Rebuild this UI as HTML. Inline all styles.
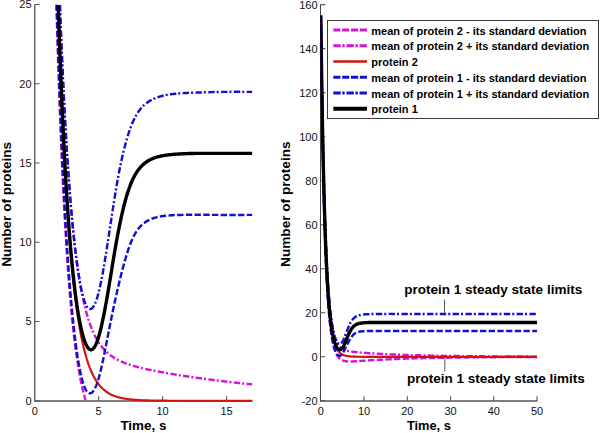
<!DOCTYPE html>
<html><head><meta charset="utf-8"><style>
html,body{margin:0;padding:0;background:#fff;}
svg{display:block;}
.tl text{font-family:"Liberation Sans",sans-serif;font-size:11px;fill:#111;}
.al text{font-family:"Liberation Sans",sans-serif;font-size:12.5px;font-weight:bold;fill:#000;}
text.lg{font-family:"Liberation Sans",sans-serif;font-size:11px;font-weight:bold;fill:#000;}
</style></head><body>
<svg width="600" height="433" viewBox="0 0 600 433">
<rect width="600" height="433" fill="#fff"/>
<defs>
<clipPath id="cl"><rect x="34.2" y="4.6" width="230" height="410"/></clipPath>
<clipPath id="cr"><rect x="320.3" y="4.6" width="230" height="410"/></clipPath>
</defs>
<path d="M34.75,4.55 V401.80" fill="none" stroke="#555" stroke-width="1.3"/>
<path d="M34.25,401 H252.43" fill="none" stroke="#555" stroke-width="1.36"/>
<path d="M34.75,400.80 h4.8 M34.75,321.55 h4.8 M34.75,242.30 h4.8 M34.75,163.05 h4.8 M34.75,83.80 h4.8 M34.75,4.55 h4.8 M98.65,400.80 v-4.6 M162.60,400.80 v-4.6 M226.55,400.80 v-4.6" stroke="#555" stroke-width="1.1"/>
<path d="M320.50,4.62 V401.82" fill="none" stroke="#444" stroke-width="1.0"/>
<path d="M320.00,401 H537.35" fill="none" stroke="#555" stroke-width="1.36"/>
<path d="M320.50,400.82 h4.8 M320.50,356.80 h4.8 M320.50,312.78 h4.8 M320.50,268.76 h4.8 M320.50,224.73 h4.8 M320.50,180.71 h4.8 M320.50,136.69 h4.8 M320.50,92.67 h4.8 M320.50,48.65 h4.8 M320.50,4.62 h4.8 M364.05,400.82 v-4.6 M407.30,400.82 v-4.6 M450.55,400.82 v-4.6 M493.80,400.82 v-4.6 M537.05,400.82 v-4.6" stroke="#555" stroke-width="1.1"/>
<g clip-path="url(#cl)">
<path d="M56.41,4.79 56.47,7.17 56.54,9.53 56.61,11.88 56.68,14.21 56.75,16.54 56.82,18.85 56.88,21.15 56.95,23.43 57.02,25.71 57.09,27.97 57.16,30.22 57.23,32.46 57.29,34.68 57.36,36.90 57.43,39.10 57.50,41.29 57.57,43.47 57.63,45.63 57.70,47.79 57.77,49.93 57.84,52.06 57.91,54.18 57.98,56.29 58.04,58.39 58.11,60.48 58.18,62.55 58.25,64.62 58.32,66.67 58.39,68.71 58.45,70.74 58.52,72.76 58.59,74.77 58.66,76.77 58.73,78.75 58.80,80.73 58.86,82.70 58.93,84.65 59.00,86.60 59.07,88.53 59.14,90.46 59.20,92.37 59.27,94.27 59.34,96.17 59.41,98.05 59.48,99.92 59.55,101.78 59.61,103.64 59.68,105.48 59.75,107.31 59.82,109.13 59.89,110.95 59.96,112.75 60.02,114.54 60.09,116.33 60.16,118.10 60.23,119.87 60.30,121.62 60.37,123.37 60.43,125.10 60.50,126.83 60.57,128.55 60.64,130.26 60.71,131.96 60.77,133.65 60.84,135.33 60.91,137.00 60.98,138.66 61.05,140.32 61.12,141.96 61.18,143.60 61.25,145.22 61.32,146.84 61.39,148.45 61.46,150.05 61.53,151.65 61.59,153.23 61.66,154.80 61.73,156.37 61.80,157.93 61.87,159.48 61.94,161.02 62.00,162.56 62.07,164.08 62.14,165.60 62.21,167.11 62.28,168.61 62.34,170.10 62.41,171.58 62.48,173.06 62.55,174.53 62.62,175.99 62.69,177.44 62.75,178.89 62.82,180.32 62.89,181.75 62.96,183.17 63.03,184.59 63.10,185.99 63.16,187.39 63.23,188.78 63.30,190.17 63.37,191.54 63.44,192.91 63.51,194.27 63.57,195.63 63.64,196.97 63.71,198.31 63.78,199.64 63.85,200.97 63.91,202.29 63.98,203.60 64.05,204.90 64.12,206.20 64.19,207.48 64.26,208.77 64.32,210.04 64.39,211.31 64.46,212.57 64.53,213.83 64.60,215.08 64.67,216.32 64.73,217.55 64.80,218.78 64.87,220.00 64.94,221.22 65.01,222.42 65.08,223.63 65.14,224.82 65.21,226.01 65.28,227.19 65.35,228.37 65.42,229.54 65.48,230.70 65.55,231.86 65.62,233.01 65.69,234.15 65.76,235.29 65.83,236.42 65.89,237.55 65.96,238.67 66.03,239.78 66.10,240.89 66.17,241.99 66.24,243.09 66.30,244.18 66.37,245.26 66.44,246.34 66.51,247.41 66.58,248.48 66.65,249.54 66.71,250.59 66.78,251.64 66.85,252.68 66.92,253.72 66.99,254.75 67.05,255.78 67.12,256.80 67.19,257.82 67.26,258.83 67.33,259.83 67.40,260.83 67.46,261.82 67.53,262.81 67.60,263.79 67.67,264.77 67.74,265.74 67.81,266.71 67.87,267.67 67.94,268.63 68.01,269.58 68.08,270.53 68.15,271.47 68.22,272.40 68.28,273.33 68.35,274.26 68.42,275.18 68.49,276.09 68.56,277.01 68.62,277.91 68.69,278.81 68.76,279.71 68.83,280.60 68.90,281.48 68.97,282.37 69.03,283.24 69.10,284.11 69.17,284.98 69.24,285.84 69.31,286.70 69.38,287.55 69.44,288.40 69.51,289.25 69.58,290.08 69.65,290.92 69.72,291.75 69.79,292.57 69.85,293.40 69.92,294.21 69.99,295.02 70.06,295.83 70.13,296.63 70.19,297.43 70.26,298.23 70.33,299.02 70.40,299.80 70.47,300.59 70.54,301.36 70.60,302.14 70.67,302.90 70.74,303.67 70.81,304.43 70.88,305.19 70.95,305.94 71.01,306.69 71.08,307.43 71.15,308.17 71.22,308.91 71.29,309.64 71.35,310.37 71.42,311.09 71.49,311.81 71.56,312.53 71.63,313.24 71.70,313.95 71.76,314.65 71.83,315.35 71.90,316.05 71.97,316.74 72.04,317.43 72.11,318.11 72.17,318.80 72.24,319.47 72.31,320.15 72.38,320.82 72.45,321.49 72.52,322.15 72.58,322.81 72.65,323.46 72.72,324.12 72.79,324.76 72.86,325.41 72.92,326.05 72.99,326.69 73.06,327.32 73.13,327.96 73.20,328.58 73.27,329.21 73.33,329.83 73.40,330.45 73.47,331.06 73.54,331.67 73.61,332.28 73.68,332.88 73.74,333.48 73.81,334.08 73.88,334.67 73.95,335.26 74.02,335.85 74.09,336.44 74.15,337.02 74.22,337.60 74.29,338.17 74.36,338.74 74.43,339.31 74.49,339.88 74.56,340.44 74.63,341.00 74.70,341.55 74.77,342.11 74.84,342.66 74.90,343.20 74.97,343.75 75.04,344.29 75.11,344.83 75.18,345.36 75.25,345.89 75.31,346.42 75.38,346.95 75.45,347.47 75.52,347.99 75.59,348.51 75.66,349.02 75.72,349.54 75.79,350.04 75.86,350.55 75.93,351.05 76.00,351.55 76.06,352.05 76.13,352.55 76.20,353.04 76.27,353.53 76.34,354.02 76.41,354.50 76.47,354.98 76.54,355.46 76.61,355.94 76.68,356.41 76.75,356.88 76.82,357.35 76.88,357.82 76.95,358.28 77.02,358.74 77.09,359.20 77.16,359.65 77.23,360.11 77.29,360.56 77.36,361.01 77.43,361.45 77.50,361.90 77.57,362.34 77.63,362.77 77.70,363.21 77.77,363.64 77.91,364.50 78.04,365.35 78.18,366.19 78.32,367.03 78.45,367.85 78.59,368.66 78.73,369.46 78.86,370.26 79.00,371.05 79.14,371.82 79.27,372.59 79.41,373.35 79.55,374.10 79.68,374.85 79.82,375.58 79.96,376.31 80.09,377.03 80.23,377.74 80.37,378.44 80.50,379.14 80.64,379.83 80.77,380.51 80.91,381.18 81.05,381.84 81.18,382.50 81.32,383.15 81.46,383.79 81.59,384.43 81.73,385.06 81.87,385.68 82.00,386.29 82.14,386.90 82.28,387.50 82.41,388.09 82.55,388.68 82.69,389.26 82.82,389.83 82.96,390.40 83.10,390.96 83.23,391.52 83.37,392.07 83.51,392.61 83.64,393.14 83.78,393.67 83.91,394.20 84.05,394.72 84.19,395.23 84.32,395.74 84.46,396.24 84.60,396.73 84.73,397.22 84.87,397.70 85.01,398.18 85.14,398.66 85.28,399.12 85.42,399.58 85.55,400.04 85.69,400.49 85.76,400.72" fill="none" stroke="#d614d6" stroke-width="2.45" stroke-dasharray="6.3 2.4" stroke-linejoin="round"/>
<path d="M59.89,4.96 59.96,6.81 60.02,8.64 60.09,10.47 60.16,12.29 60.23,14.10 60.30,15.90 60.37,17.68 60.43,19.46 60.50,21.23 60.57,22.99 60.64,24.75 60.71,26.49 60.77,28.22 60.84,29.95 60.91,31.66 60.98,33.37 61.05,35.06 61.12,36.75 61.18,38.43 61.25,40.10 61.32,41.76 61.39,43.42 61.46,45.06 61.53,46.70 61.59,48.32 61.66,49.94 61.73,51.55 61.80,53.15 61.87,54.75 61.94,56.33 62.00,57.91 62.07,59.48 62.14,61.04 62.21,62.59 62.28,64.13 62.34,65.67 62.41,67.19 62.48,68.71 62.55,70.23 62.62,71.73 62.69,73.22 62.75,74.71 62.82,76.19 62.89,77.66 62.96,79.13 63.03,80.59 63.10,82.03 63.16,83.48 63.23,84.91 63.30,86.34 63.37,87.76 63.44,89.17 63.51,90.57 63.57,91.97 63.64,93.36 63.71,94.74 63.78,96.11 63.85,97.48 63.91,98.84 63.98,100.20 64.05,101.54 64.12,102.88 64.19,104.21 64.26,105.54 64.32,106.86 64.39,108.17 64.46,109.47 64.53,110.77 64.60,112.06 64.67,113.34 64.73,114.62 64.80,115.89 64.87,117.16 64.94,118.41 65.01,119.67 65.08,120.91 65.14,122.15 65.21,123.38 65.28,124.60 65.35,125.82 65.42,127.03 65.48,128.24 65.55,129.44 65.62,130.63 65.69,131.82 65.76,133.00 65.83,134.17 65.89,135.34 65.96,136.50 66.03,137.66 66.10,138.81 66.17,139.95 66.24,141.09 66.30,142.22 66.37,143.35 66.44,144.47 66.51,145.58 66.58,146.69 66.65,147.80 66.71,148.89 66.78,149.98 66.85,151.07 66.92,152.15 66.99,153.22 67.05,154.29 67.12,155.36 67.19,156.41 67.26,157.47 67.33,158.51 67.40,159.55 67.46,160.59 67.53,161.62 67.60,162.64 67.67,163.66 67.74,164.68 67.81,165.69 67.87,166.69 67.94,167.69 68.01,168.68 68.08,169.67 68.15,170.65 68.22,171.63 68.28,172.60 68.35,173.57 68.42,174.53 68.49,175.49 68.56,176.44 68.62,177.39 68.69,178.33 68.76,179.27 68.83,180.20 68.90,181.13 68.97,182.05 69.03,182.97 69.10,183.88 69.17,184.79 69.24,185.70 69.31,186.60 69.38,187.49 69.44,188.38 69.51,189.27 69.58,190.15 69.65,191.02 69.72,191.89 69.79,192.76 69.85,193.62 69.92,194.48 69.99,195.33 70.06,196.18 70.13,197.03 70.19,197.87 70.26,198.70 70.33,199.54 70.40,200.36 70.47,201.19 70.54,202.00 70.60,202.82 70.67,203.63 70.74,204.43 70.81,205.24 70.88,206.03 70.95,206.83 71.01,207.62 71.08,208.40 71.15,209.18 71.22,209.96 71.29,210.73 71.35,211.50 71.42,212.27 71.49,213.03 71.56,213.79 71.63,214.54 71.70,215.29 71.76,216.03 71.83,216.77 71.90,217.51 71.97,218.25 72.04,218.98 72.11,219.70 72.17,220.43 72.24,221.14 72.31,221.86 72.38,222.57 72.45,223.28 72.52,223.98 72.58,224.68 72.65,225.38 72.72,226.07 72.79,226.76 72.86,227.45 72.92,228.13 72.99,228.81 73.06,229.48 73.13,230.16 73.20,230.82 73.27,231.49 73.33,232.15 73.40,232.81 73.47,233.46 73.54,234.11 73.61,234.76 73.68,235.41 73.74,236.05 73.81,236.69 73.88,237.32 73.95,237.95 74.02,238.58 74.09,239.20 74.15,239.83 74.22,240.44 74.29,241.06 74.36,241.67 74.43,242.28 74.49,242.89 74.56,243.49 74.63,244.09 74.70,244.68 74.77,245.28 74.84,245.87 74.90,246.46 74.97,247.04 75.04,247.62 75.11,248.20 75.18,248.77 75.25,249.35 75.31,249.92 75.38,250.48 75.45,251.05 75.52,251.61 75.59,252.16 75.66,252.72 75.72,253.27 75.79,253.82 75.86,254.37 75.93,254.91 76.00,255.45 76.06,255.99 76.13,256.52 76.20,257.06 76.27,257.58 76.34,258.11 76.41,258.64 76.47,259.16 76.54,259.68 76.61,260.19 76.68,260.71 76.75,261.22 76.82,261.73 76.88,262.23 76.95,262.73 77.02,263.23 77.09,263.73 77.16,264.23 77.23,264.72 77.29,265.21 77.36,265.70 77.43,266.18 77.50,266.67 77.57,267.15 77.63,267.62 77.70,268.10 77.77,268.57 77.84,269.04 77.91,269.51 77.98,269.98 78.04,270.44 78.11,270.90 78.18,271.36 78.25,271.82 78.32,272.27 78.39,272.72 78.45,273.17 78.52,273.62 78.59,274.06 78.66,274.51 78.73,274.95 78.80,275.38 78.86,275.82 78.93,276.25 79.07,277.11 79.20,277.97 79.34,278.81 79.48,279.64 79.61,280.47 79.75,281.29 79.89,282.10 80.02,282.90 80.16,283.69 80.30,284.48 80.43,285.25 80.57,286.02 80.71,286.78 80.84,287.54 80.98,288.28 81.12,289.02 81.25,289.75 81.39,290.48 81.53,291.19 81.66,291.90 81.80,292.60 81.94,293.30 82.07,293.99 82.21,294.67 82.34,295.34 82.48,296.01 82.62,296.67 82.75,297.32 82.89,297.97 83.03,298.61 83.16,299.25 83.30,299.87 83.44,300.50 83.57,301.11 83.71,301.72 83.85,302.32 83.98,302.92 84.12,303.51 84.26,304.10 84.39,304.68 84.53,305.25 84.67,305.82 84.80,306.38 84.94,306.94 85.08,307.49 85.21,308.04 85.35,308.58 85.48,309.11 85.62,309.64 85.76,310.17 85.89,310.68 86.03,311.20 86.17,311.71 86.30,312.21 86.44,312.71 86.58,313.21 86.71,313.69 86.85,314.18 86.99,314.66 87.12,315.13 87.26,315.60 87.40,316.07 87.53,316.53 87.67,316.99 87.81,317.44 87.94,317.89 88.08,318.33 88.21,318.77 88.35,319.20 88.49,319.63 88.62,320.06 88.76,320.48 88.90,320.90 89.03,321.31 89.17,321.72 89.31,322.13 89.44,322.53 89.58,322.93 89.72,323.32 89.85,323.71 89.99,324.10 90.13,324.48 90.26,324.86 90.40,325.23 90.54,325.61 90.67,325.97 90.81,326.34 91.01,326.88 91.22,327.41 91.42,327.94 91.63,328.45 91.83,328.96 92.04,329.47 92.24,329.96 92.45,330.45 92.65,330.93 92.86,331.40 93.06,331.87 93.27,332.33 93.47,332.79 93.68,333.24 93.88,333.68 94.09,334.11 94.29,334.54 94.49,334.97 94.70,335.38 94.90,335.79 95.11,336.20 95.31,336.60 95.52,337.00 95.72,337.38 95.93,337.77 96.13,338.15 96.34,338.52 96.54,338.89 96.75,339.25 96.95,339.61 97.16,339.96 97.36,340.31 97.57,340.65 97.77,340.99 97.98,341.33 98.18,341.66 98.39,341.98 98.59,342.30 98.80,342.62 99.00,342.93 99.20,343.24 99.41,343.54 99.61,343.84 99.82,344.14 100.09,344.53 100.37,344.91 100.64,345.28 100.91,345.65 101.18,346.01 101.46,346.37 101.73,346.72 102.00,347.06 102.28,347.40 102.55,347.73 102.82,348.05 103.10,348.37 103.37,348.69 103.64,349.00 103.91,349.30 104.19,349.60 104.46,349.90 104.73,350.18 105.01,350.47 105.28,350.75 105.55,351.02 105.83,351.29 106.10,351.56 106.37,351.82 106.64,352.08 106.92,352.33 107.19,352.58 107.46,352.83 107.74,353.07 108.01,353.31 108.28,353.54 108.56,353.77 108.90,354.05 109.24,354.33 109.58,354.60 109.92,354.87 110.26,355.13 110.60,355.39 110.95,355.64 111.29,355.89 111.63,356.13 111.97,356.37 112.31,356.60 112.65,356.83 112.99,357.06 113.33,357.28 113.68,357.50 114.02,357.71 114.36,357.92 114.70,358.13 115.04,358.33 115.38,358.53 115.72,358.73 116.06,358.92 116.41,359.11 116.75,359.30 117.09,359.48 117.43,359.66 117.77,359.84 118.11,360.02 118.45,360.19 118.79,360.36 119.14,360.53 119.48,360.69 119.82,360.85 120.16,361.01 120.57,361.20 120.98,361.39 121.39,361.57 121.80,361.75 122.21,361.92 122.62,362.10 123.03,362.27 123.44,362.44 123.85,362.60 124.26,362.76 124.67,362.92 125.07,363.08 125.48,363.23 125.89,363.39 126.30,363.54 126.71,363.69 127.12,363.83 127.53,363.98 127.94,364.12 128.35,364.26 128.76,364.40 129.17,364.53 129.58,364.67 129.99,364.80 130.40,364.93 130.81,365.06 131.22,365.19 131.63,365.32 132.04,365.44 132.45,365.56 132.86,365.69 133.27,365.81 133.68,365.93 134.08,366.04 134.49,366.16 134.90,366.28 135.31,366.39 135.72,366.50 136.13,366.62 136.54,366.73 136.95,366.84 137.40,366.96 138.17,367.16 138.94,367.36 139.71,367.55 140.48,367.74 141.25,367.93 142.02,368.12 142.79,368.30 143.56,368.48 144.33,368.66 145.10,368.84 145.87,369.01 146.64,369.18 147.41,369.35 148.18,369.52 148.95,369.68 149.72,369.84 150.49,370.01 151.26,370.16 152.03,370.32 152.80,370.48 153.57,370.63 154.34,370.79 155.11,370.94 155.88,371.09 156.65,371.24 157.42,371.39 158.19,371.53 158.96,371.68 159.73,371.82 160.50,371.97 161.27,372.11 162.04,372.25 162.81,372.39 163.58,372.53 164.35,372.67 165.12,372.80 165.89,372.94 166.66,373.08 167.43,373.21 168.20,373.34 168.97,373.48 169.74,373.61 170.51,373.74 171.28,373.87 172.05,374.00 172.82,374.13 173.59,374.25 174.36,374.38 175.13,374.51 175.90,374.63 176.67,374.76 177.44,374.88 178.21,375.00 178.98,375.13 179.75,375.25 180.52,375.37 181.29,375.49 182.06,375.61 182.83,375.73 183.60,375.85 184.37,375.97 185.14,376.08 185.91,376.20 186.68,376.32 187.45,376.43 188.22,376.55 188.99,376.66 189.76,376.78 190.53,376.89 191.30,377.00 192.07,377.11 192.84,377.23 193.61,377.34 194.38,377.45 195.15,377.56 195.92,377.67 196.69,377.78 197.46,377.88 198.23,377.99 199.00,378.10 199.77,378.21 200.54,378.31 201.31,378.42 202.08,378.52 202.85,378.63 203.62,378.73 204.39,378.83 205.16,378.94 205.93,379.04 206.70,379.14 207.47,379.24 208.24,379.35 209.01,379.45 209.78,379.55 210.55,379.65 211.32,379.75 212.09,379.84 212.86,379.94 213.63,380.04 214.40,380.14 215.17,380.23 215.94,380.33 216.71,380.43 217.48,380.52 218.25,380.62 219.02,380.71 219.79,380.81 220.56,380.90 221.33,380.99 222.10,381.09 222.87,381.18 223.64,381.27 224.41,381.36 225.18,381.45 225.95,381.54 226.72,381.63 227.49,381.72 228.26,381.81 229.03,381.90 229.80,381.99 230.57,382.08 231.34,382.17 232.11,382.25 232.88,382.34 233.65,382.43 234.42,382.51 235.19,382.60 235.96,382.68 236.73,382.77 237.50,382.85 238.27,382.94 239.04,383.02 239.81,383.10 240.58,383.19 241.35,383.27 242.12,383.35 242.89,383.43 243.66,383.52 244.43,383.60 245.20,383.68 245.97,383.76 246.74,383.84 247.51,383.92 248.28,384.00 249.05,384.07 249.82,384.15 250.59,384.23 251.36,384.31 252.13,384.39" fill="none" stroke="#d614d6" stroke-width="2.45" stroke-dasharray="6.4 2 2 2.4" stroke-linejoin="round"/>
<path d="M58.04,4.81 58.11,6.92 58.18,9.02 58.25,11.10 58.32,13.18 58.39,15.24 58.45,17.29 58.52,19.33 58.59,21.37 58.66,23.38 58.73,25.39 58.80,27.39 58.86,29.38 58.93,31.36 59.00,33.32 59.07,35.28 59.14,37.22 59.20,39.16 59.27,41.08 59.34,43.00 59.41,44.90 59.48,46.80 59.55,48.68 59.61,50.56 59.68,52.42 59.75,54.27 59.82,56.12 59.89,57.95 59.96,59.78 60.02,61.59 60.09,63.40 60.16,65.20 60.23,66.98 60.30,68.76 60.37,70.53 60.43,72.28 60.50,74.03 60.57,75.77 60.64,77.50 60.71,79.22 60.77,80.93 60.84,82.64 60.91,84.33 60.98,86.01 61.05,87.69 61.12,89.36 61.18,91.01 61.25,92.66 61.32,94.30 61.39,95.93 61.46,97.56 61.53,99.17 61.59,100.78 61.66,102.37 61.73,103.96 61.80,105.54 61.87,107.11 61.94,108.68 62.00,110.23 62.07,111.78 62.14,113.32 62.21,114.85 62.28,116.37 62.34,117.88 62.41,119.39 62.48,120.89 62.55,122.38 62.62,123.86 62.69,125.33 62.75,126.80 62.82,128.26 62.89,129.71 62.96,131.15 63.03,132.59 63.10,134.01 63.16,135.43 63.23,136.85 63.30,138.25 63.37,139.65 63.44,141.04 63.51,142.42 63.57,143.80 63.64,145.16 63.71,146.53 63.78,147.88 63.85,149.22 63.91,150.56 63.98,151.90 64.05,153.22 64.12,154.54 64.19,155.85 64.26,157.15 64.32,158.45 64.39,159.74 64.46,161.02 64.53,162.30 64.60,163.57 64.67,164.83 64.73,166.09 64.80,167.34 64.87,168.58 64.94,169.82 65.01,171.04 65.08,172.27 65.14,173.48 65.21,174.69 65.28,175.90 65.35,177.09 65.42,178.29 65.48,179.47 65.55,180.65 65.62,181.82 65.69,182.99 65.76,184.14 65.83,185.30 65.89,186.44 65.96,187.59 66.03,188.72 66.10,189.85 66.17,190.97 66.24,192.09 66.30,193.20 66.37,194.30 66.44,195.40 66.51,196.50 66.58,197.58 66.65,198.67 66.71,199.74 66.78,200.81 66.85,201.88 66.92,202.94 66.99,203.99 67.05,205.04 67.12,206.08 67.19,207.11 67.26,208.15 67.33,209.17 67.40,210.19 67.46,211.21 67.53,212.21 67.60,213.22 67.67,214.22 67.74,215.21 67.81,216.20 67.87,217.18 67.94,218.16 68.01,219.13 68.08,220.10 68.15,221.06 68.22,222.02 68.28,222.97 68.35,223.91 68.42,224.86 68.49,225.79 68.56,226.72 68.62,227.65 68.69,228.57 68.76,229.49 68.83,230.40 68.90,231.31 68.97,232.21 69.03,233.11 69.10,234.00 69.17,234.89 69.24,235.77 69.31,236.65 69.38,237.52 69.44,238.39 69.51,239.26 69.58,240.12 69.65,240.97 69.72,241.82 69.79,242.67 69.85,243.51 69.92,244.35 69.99,245.18 70.06,246.01 70.13,246.83 70.19,247.65 70.26,248.47 70.33,249.28 70.40,250.08 70.47,250.89 70.54,251.68 70.60,252.48 70.67,253.27 70.74,254.05 70.81,254.83 70.88,255.61 70.95,256.38 71.01,257.15 71.08,257.92 71.15,258.68 71.22,259.43 71.29,260.19 71.35,260.93 71.42,261.68 71.49,262.42 71.56,263.16 71.63,263.89 71.70,264.62 71.76,265.34 71.83,266.06 71.90,266.78 71.97,267.49 72.04,268.20 72.11,268.91 72.17,269.61 72.24,270.31 72.31,271.00 72.38,271.69 72.45,272.38 72.52,273.07 72.58,273.75 72.65,274.42 72.72,275.09 72.79,275.76 72.86,276.43 72.92,277.09 72.99,277.75 73.06,278.40 73.13,279.06 73.20,279.70 73.27,280.35 73.33,280.99 73.40,281.63 73.47,282.26 73.54,282.89 73.61,283.52 73.68,284.14 73.74,284.76 73.81,285.38 73.88,286.00 73.95,286.61 74.02,287.22 74.09,287.82 74.15,288.42 74.22,289.02 74.29,289.61 74.36,290.21 74.43,290.80 74.49,291.38 74.56,291.96 74.63,292.54 74.70,293.12 74.77,293.69 74.84,294.26 74.90,294.83 74.97,295.39 75.04,295.95 75.11,296.51 75.18,297.07 75.25,297.62 75.31,298.17 75.38,298.71 75.45,299.26 75.52,299.80 75.59,300.34 75.66,300.87 75.72,301.40 75.79,301.93 75.86,302.46 75.93,302.98 76.00,303.50 76.06,304.02 76.13,304.54 76.20,305.05 76.27,305.56 76.34,306.06 76.41,306.57 76.47,307.07 76.54,307.57 76.61,308.07 76.68,308.56 76.75,309.05 76.82,309.54 76.88,310.02 76.95,310.51 77.02,310.99 77.09,311.47 77.16,311.94 77.23,312.41 77.29,312.88 77.36,313.35 77.43,313.82 77.50,314.28 77.57,314.74 77.63,315.20 77.70,315.66 77.77,316.11 77.84,316.56 77.91,317.01 77.98,317.45 78.04,317.90 78.11,318.34 78.18,318.78 78.25,319.21 78.32,319.65 78.39,320.08 78.52,320.94 78.66,321.79 78.80,322.62 78.93,323.45 79.07,324.28 79.20,325.09 79.34,325.89 79.48,326.69 79.61,327.47 79.75,328.25 79.89,329.02 80.02,329.78 80.16,330.54 80.30,331.28 80.43,332.02 80.57,332.75 80.71,333.48 80.84,334.19 80.98,334.90 81.12,335.60 81.25,336.29 81.39,336.97 81.53,337.65 81.66,338.32 81.80,338.99 81.94,339.64 82.07,340.29 82.21,340.93 82.34,341.57 82.48,342.20 82.62,342.82 82.75,343.44 82.89,344.04 83.03,344.65 83.16,345.24 83.30,345.83 83.44,346.42 83.57,346.99 83.71,347.57 83.85,348.13 83.98,348.69 84.12,349.24 84.26,349.79 84.39,350.33 84.53,350.87 84.67,351.40 84.80,351.92 84.94,352.44 85.08,352.95 85.21,353.46 85.35,353.97 85.48,354.46 85.62,354.95 85.76,355.44 85.89,355.92 86.03,356.40 86.17,356.87 86.30,357.34 86.44,357.80 86.58,358.26 86.71,358.71 86.85,359.15 86.99,359.60 87.12,360.03 87.26,360.47 87.40,360.89 87.53,361.32 87.67,361.74 87.81,362.15 87.94,362.56 88.08,362.97 88.21,363.37 88.35,363.77 88.49,364.16 88.62,364.55 88.76,364.93 88.90,365.32 89.03,365.69 89.17,366.06 89.31,366.43 89.44,366.80 89.65,367.34 89.85,367.87 90.06,368.39 90.26,368.91 90.47,369.41 90.67,369.91 90.88,370.40 91.08,370.89 91.29,371.36 91.49,371.83 91.70,372.29 91.90,372.74 92.11,373.19 92.31,373.63 92.52,374.06 92.72,374.48 92.92,374.90 93.13,375.31 93.33,375.72 93.54,376.12 93.74,376.51 93.95,376.89 94.15,377.27 94.36,377.65 94.56,378.01 94.77,378.38 94.97,378.73 95.18,379.08 95.38,379.43 95.59,379.77 95.79,380.10 96.00,380.43 96.20,380.75 96.41,381.07 96.61,381.39 96.82,381.69 97.02,382.00 97.23,382.30 97.50,382.69 97.77,383.07 98.04,383.44 98.32,383.81 98.59,384.17 98.86,384.52 99.14,384.86 99.41,385.20 99.68,385.53 99.96,385.85 100.23,386.17 100.50,386.48 100.77,386.78 101.05,387.08 101.32,387.37 101.59,387.65 101.87,387.93 102.14,388.20 102.41,388.47 102.69,388.73 102.96,388.98 103.23,389.23 103.50,389.48 103.78,389.71 104.05,389.95 104.32,390.18 104.67,390.46 105.01,390.73 105.35,390.99 105.69,391.25 106.03,391.50 106.37,391.75 106.71,391.99 107.05,392.22 107.40,392.45 107.74,392.67 108.08,392.88 108.42,393.09 108.76,393.29 109.10,393.49 109.44,393.68 109.78,393.87 110.13,394.05 110.47,394.23 110.81,394.40 111.15,394.57 111.49,394.73 111.83,394.89 112.24,395.08 112.65,395.26 113.06,395.44 113.47,395.60 113.88,395.77 114.29,395.93 114.70,396.08 115.11,396.23 115.52,396.37 115.93,396.51 116.34,396.65 116.75,396.78 117.16,396.91 117.57,397.03 117.98,397.15 118.39,397.26 118.79,397.37 119.20,397.48 119.61,397.59 120.02,397.69 120.43,397.79 120.84,397.88 121.25,397.97 121.73,398.08 122.21,398.18 122.69,398.27 123.16,398.36 123.64,398.45 124.12,398.54 124.60,398.62 125.07,398.70 125.55,398.78 126.03,398.85 126.51,398.93 126.99,398.99 127.46,399.06 127.94,399.12 128.42,399.19 128.90,399.24 129.38,399.30 129.85,399.36 130.33,399.41 130.81,399.46 131.29,399.51 131.76,399.56 132.24,399.60 132.72,399.65 133.20,399.69 133.68,399.73 134.15,399.77 134.63,399.81 135.11,399.84 135.59,399.88 136.06,399.91 136.54,399.94 137.02,399.98 137.79,400.02 138.56,400.07 139.33,400.11 140.10,400.15 140.87,400.19 141.64,400.23 142.41,400.26 143.18,400.29 143.95,400.32 144.72,400.35 145.49,400.37 146.26,400.40 147.03,400.42 147.80,400.45 148.57,400.47 149.34,400.49 150.11,400.50 150.88,400.52 151.65,400.54 152.42,400.55 153.19,400.57 153.96,400.58 154.73,400.59 155.50,400.61 156.27,400.62 157.04,400.63 157.81,400.64 158.58,400.65 159.35,400.66 160.12,400.66 160.89,400.67 161.66,400.68 162.43,400.69 163.20,400.69 163.97,400.70 164.74,400.71 165.51,400.71 166.28,400.72 167.05,400.72 167.82,400.73 168.59,400.73 169.36,400.73 170.13,400.74 170.90,400.74 171.67,400.75 172.44,400.75 173.21,400.75 173.98,400.75 174.75,400.76 175.52,400.76 176.29,400.76 177.06,400.76 177.83,400.77 178.60,400.77 179.37,400.77 180.14,400.77 180.91,400.77 181.68,400.77 182.45,400.78 183.22,400.78 183.99,400.78 184.76,400.78 185.53,400.78 186.30,400.78 187.07,400.78 187.84,400.78 188.61,400.79 189.38,400.79 190.15,400.79 190.92,400.79 191.69,400.79 192.46,400.79 193.23,400.79 194.00,400.79 194.77,400.79 195.54,400.79 196.31,400.79 197.08,400.79 197.85,400.79 198.62,400.79 199.39,400.79 200.16,400.79 200.93,400.79 201.70,400.79 202.47,400.80 203.24,400.80 204.01,400.80 204.78,400.80 205.55,400.80 206.32,400.80 207.09,400.80 207.86,400.80 208.63,400.80 209.40,400.80 210.17,400.80 210.94,400.80 211.71,400.80 212.48,400.80 213.25,400.80 214.02,400.80 214.79,400.80 215.56,400.80 216.33,400.80 217.10,400.80 217.87,400.80 218.64,400.80 219.41,400.80 220.18,400.80 220.95,400.80 221.72,400.80 222.49,400.80 223.26,400.80 224.03,400.80 224.80,400.80 225.57,400.80 226.34,400.80 227.11,400.80 227.88,400.80 228.65,400.80 229.42,400.80 230.19,400.80 230.96,400.80 231.73,400.80 232.50,400.80 233.27,400.80 234.04,400.80 234.81,400.80 235.58,400.80 236.35,400.80 237.12,400.80 237.89,400.80 238.66,400.80 239.43,400.80 240.20,400.80 240.97,400.80 241.74,400.80 242.51,400.80 243.28,400.80 244.05,400.80 244.82,400.80 245.59,400.80 246.36,400.80 247.13,400.80 247.90,400.80 248.67,400.80 249.44,400.80 250.21,400.80 250.98,400.80 251.75,400.80 252.13,400.80" fill="none" stroke="#d41212" stroke-width="2.2" stroke-linejoin="round"/>
<path d="M56.75,4.55 56.82,6.89 56.88,9.21 56.95,11.52 57.02,13.81 57.09,16.10 57.16,18.37 57.23,20.63 57.29,22.88 57.36,25.11 57.43,27.34 57.50,29.55 57.57,31.75 57.63,33.94 57.70,36.12 57.77,38.28 57.84,40.43 57.91,42.58 57.98,44.71 58.04,46.83 58.11,48.94 58.18,51.03 58.25,53.12 58.32,55.20 58.39,57.26 58.45,59.31 58.52,61.36 58.59,63.39 58.66,65.41 58.73,67.42 58.80,69.42 58.86,71.41 58.93,73.38 59.00,75.35 59.07,77.31 59.14,79.25 59.20,81.19 59.27,83.12 59.34,85.03 59.41,86.94 59.48,88.83 59.55,90.72 59.61,92.59 59.68,94.46 59.75,96.31 59.82,98.16 59.89,100.00 59.96,101.82 60.02,103.64 60.09,105.45 60.16,107.24 60.23,109.03 60.30,110.81 60.37,112.58 60.43,114.34 60.50,116.09 60.57,117.83 60.64,119.56 60.71,121.28 60.77,122.99 60.84,124.70 60.91,126.39 60.98,128.08 61.05,129.76 61.12,131.42 61.18,133.08 61.25,134.73 61.32,136.37 61.39,138.01 61.46,139.63 61.53,141.25 61.59,142.85 61.66,144.45 61.73,146.04 61.80,147.62 61.87,149.20 61.94,150.76 62.00,152.32 62.07,153.87 62.14,155.41 62.21,156.94 62.28,158.46 62.34,159.98 62.41,161.49 62.48,162.99 62.55,164.48 62.62,165.96 62.69,167.44 62.75,168.91 62.82,170.37 62.89,171.82 62.96,173.26 63.03,174.70 63.10,176.13 63.16,177.55 63.23,178.97 63.30,180.37 63.37,181.77 63.44,183.16 63.51,184.55 63.57,185.93 63.64,187.30 63.71,188.66 63.78,190.01 63.85,191.36 63.91,192.70 63.98,194.04 64.05,195.36 64.12,196.68 64.19,198.00 64.26,199.30 64.32,200.60 64.39,201.89 64.46,203.18 64.53,204.46 64.60,205.73 64.67,206.99 64.73,208.25 64.80,209.50 64.87,210.75 64.94,211.99 65.01,213.22 65.08,214.44 65.14,215.66 65.21,216.87 65.28,218.08 65.35,219.28 65.42,220.47 65.48,221.66 65.55,222.84 65.62,224.01 65.69,225.18 65.76,226.34 65.83,227.50 65.89,228.65 65.96,229.79 66.03,230.93 66.10,232.06 66.17,233.18 66.24,234.30 66.30,235.41 66.37,236.52 66.44,237.62 66.51,238.72 66.58,239.81 66.65,240.89 66.71,241.97 66.78,243.04 66.85,244.11 66.92,245.17 66.99,246.23 67.05,247.28 67.12,248.32 67.19,249.36 67.26,250.39 67.33,251.42 67.40,252.44 67.46,253.46 67.53,254.47 67.60,255.48 67.67,256.48 67.74,257.47 67.81,258.47 67.87,259.45 67.94,260.43 68.01,261.40 68.08,262.37 68.15,263.34 68.22,264.30 68.28,265.25 68.35,266.20 68.42,267.14 68.49,268.08 68.56,269.01 68.62,269.94 68.69,270.87 68.76,271.79 68.83,272.70 68.90,273.61 68.97,274.51 69.03,275.41 69.10,276.31 69.17,277.20 69.24,278.08 69.31,278.96 69.38,279.84 69.44,280.71 69.51,281.57 69.58,282.44 69.65,283.29 69.72,284.14 69.79,284.99 69.85,285.84 69.92,286.67 69.99,287.51 70.06,288.34 70.13,289.16 70.19,289.98 70.26,290.80 70.33,291.61 70.40,292.42 70.47,293.22 70.54,294.02 70.60,294.82 70.67,295.61 70.74,296.39 70.81,297.17 70.88,297.95 70.95,298.72 71.01,299.49 71.08,300.26 71.15,301.02 71.22,301.78 71.29,302.53 71.35,303.28 71.42,304.02 71.49,304.76 71.56,305.50 71.63,306.23 71.70,306.96 71.76,307.68 71.83,308.40 71.90,309.12 71.97,309.83 72.04,310.54 72.11,311.25 72.17,311.95 72.24,312.64 72.31,313.34 72.38,314.03 72.45,314.71 72.52,315.40 72.58,316.07 72.65,316.75 72.72,317.42 72.79,318.09 72.86,318.75 72.92,319.41 72.99,320.07 73.06,320.72 73.13,321.37 73.20,322.01 73.27,322.66 73.33,323.30 73.40,323.93 73.47,324.56 73.54,325.19 73.61,325.81 73.68,326.43 73.74,327.05 73.81,327.67 73.88,328.28 73.95,328.88 74.02,329.49 74.09,330.09 74.15,330.68 74.22,331.28 74.29,331.87 74.36,332.46 74.43,333.04 74.49,333.62 74.56,334.20 74.63,334.77 74.70,335.34 74.77,335.91 74.84,336.47 74.90,337.03 74.97,337.59 75.04,338.14 75.11,338.69 75.18,339.24 75.25,339.78 75.31,340.33 75.38,340.86 75.45,341.40 75.52,341.93 75.59,342.46 75.66,342.98 75.72,343.51 75.79,344.03 75.86,344.54 75.93,345.05 76.00,345.56 76.06,346.07 76.13,346.57 76.20,347.07 76.27,347.57 76.34,348.07 76.41,348.56 76.47,349.05 76.54,349.53 76.61,350.01 76.68,350.49 76.75,350.97 76.82,351.44 76.88,351.91 76.95,352.38 77.02,352.85 77.09,353.31 77.16,353.77 77.23,354.22 77.29,354.67 77.36,355.12 77.43,355.57 77.50,356.01 77.57,356.45 77.63,356.89 77.70,357.33 77.77,357.76 77.91,358.61 78.04,359.46 78.18,360.29 78.32,361.11 78.45,361.92 78.59,362.71 78.73,363.50 78.86,364.27 79.00,365.04 79.14,365.79 79.27,366.53 79.41,367.26 79.55,367.98 79.68,368.68 79.82,369.38 79.96,370.06 80.09,370.74 80.23,371.40 80.37,372.05 80.50,372.69 80.64,373.32 80.77,373.94 80.91,374.55 81.05,375.14 81.18,375.73 81.32,376.30 81.46,376.87 81.59,377.42 81.73,377.97 81.87,378.50 82.00,379.02 82.14,379.53 82.28,380.04 82.41,380.53 82.55,381.01 82.69,381.48 82.82,381.95 82.96,382.40 83.10,382.84 83.23,383.27 83.37,383.69 83.51,384.10 83.64,384.51 83.78,384.90 83.91,385.28 84.05,385.65 84.26,386.20 84.46,386.72 84.67,387.21 84.87,387.69 85.08,388.15 85.28,388.58 85.48,389.00 85.69,389.39 85.89,389.77 86.10,390.12 86.30,390.46 86.51,390.78 86.71,391.07 86.99,391.44 87.26,391.77 87.53,392.07 87.81,392.34 88.08,392.58 88.42,392.83 88.76,393.02 89.17,393.20 89.58,393.30 90.06,393.33 90.54,393.26 90.95,393.13 91.29,392.97 91.63,392.76 91.97,392.50 92.24,392.27 92.52,392.00 92.79,391.70 93.06,391.38 93.33,391.02 93.61,390.64 93.81,390.33 94.02,390.01 94.22,389.67 94.43,389.31 94.63,388.94 94.84,388.55 95.04,388.15 95.25,387.73 95.45,387.29 95.66,386.83 95.86,386.36 96.06,385.88 96.27,385.37 96.47,384.85 96.68,384.32 96.82,383.95 96.95,383.58 97.09,383.20 97.23,382.81 97.36,382.41 97.50,382.01 97.63,381.60 97.77,381.19 97.91,380.76 98.04,380.33 98.18,379.89 98.32,379.45 98.45,378.99 98.59,378.53 98.73,378.07 98.86,377.59 99.00,377.11 99.14,376.62 99.27,376.13 99.41,375.63 99.55,375.12 99.68,374.60 99.82,374.08 99.96,373.55 100.09,373.02 100.23,372.48 100.37,371.93 100.50,371.38 100.64,370.82 100.77,370.25 100.91,369.68 101.05,369.10 101.18,368.52 101.32,367.93 101.46,367.34 101.59,366.74 101.73,366.14 101.87,365.53 102.00,364.91 102.14,364.29 102.28,363.67 102.41,363.04 102.55,362.41 102.69,361.77 102.82,361.13 102.96,360.49 103.10,359.84 103.23,359.18 103.37,358.53 103.50,357.87 103.64,357.20 103.78,356.54 103.91,355.87 104.05,355.20 104.19,354.52 104.32,353.85 104.46,353.17 104.60,352.48 104.73,351.80 104.87,351.11 105.01,350.42 105.14,349.73 105.28,349.04 105.42,348.35 105.55,347.66 105.69,346.96 105.83,346.26 105.96,345.57 106.10,344.87 106.24,344.17 106.37,343.47 106.51,342.77 106.64,342.07 106.78,341.37 106.92,340.67 107.05,339.97 107.19,339.27 107.33,338.57 107.46,337.87 107.60,337.17 107.74,336.47 107.87,335.77 108.01,335.07 108.15,334.37 108.28,333.68 108.42,332.98 108.56,332.29 108.69,331.59 108.83,330.90 108.97,330.21 109.10,329.51 109.24,328.82 109.38,328.13 109.51,327.44 109.65,326.76 109.78,326.07 109.92,325.38 110.06,324.70 110.19,324.01 110.33,323.33 110.47,322.65 110.60,321.97 110.74,321.29 110.88,320.61 111.01,319.94 111.15,319.26 111.29,318.59 111.42,317.91 111.56,317.24 111.70,316.57 111.83,315.91 111.97,315.24 112.11,314.57 112.24,313.91 112.38,313.25 112.52,312.59 112.65,311.93 112.79,311.27 112.92,310.62 113.06,309.96 113.20,309.31 113.33,308.66 113.47,308.01 113.61,307.37 113.74,306.72 113.88,306.08 114.02,305.44 114.15,304.80 114.29,304.17 114.43,303.53 114.56,302.90 114.70,302.27 114.84,301.64 114.97,301.02 115.11,300.39 115.25,299.77 115.38,299.15 115.52,298.53 115.65,297.92 115.79,297.30 115.93,296.69 116.06,296.08 116.20,295.47 116.34,294.87 116.47,294.26 116.61,293.66 116.75,293.06 116.88,292.46 117.02,291.87 117.16,291.27 117.29,290.68 117.43,290.08 117.57,289.50 117.70,288.91 117.84,288.32 117.98,287.74 118.11,287.15 118.25,286.57 118.39,285.99 118.52,285.42 118.66,284.84 118.79,284.27 118.93,283.69 119.07,283.12 119.20,282.55 119.34,281.99 119.48,281.42 119.61,280.86 119.75,280.30 119.89,279.74 120.02,279.18 120.16,278.62 120.30,278.06 120.43,277.51 120.57,276.96 120.71,276.41 120.84,275.86 120.98,275.31 121.12,274.77 121.25,274.23 121.39,273.69 121.53,273.15 121.66,272.61 121.80,272.08 121.93,271.55 122.07,271.02 122.21,270.49 122.34,269.96 122.48,269.44 122.62,268.92 122.75,268.40 122.89,267.89 123.03,267.37 123.16,266.86 123.30,266.35 123.44,265.85 123.57,265.35 123.71,264.84 123.85,264.35 123.98,263.85 124.12,263.36 124.26,262.87 124.39,262.38 124.53,261.90 124.67,261.41 124.80,260.94 124.94,260.46 125.07,259.99 125.21,259.51 125.35,259.05 125.48,258.58 125.62,258.12 125.76,257.66 125.89,257.20 126.03,256.74 126.17,256.29 126.30,255.84 126.44,255.39 126.58,254.95 126.71,254.51 126.85,254.07 126.99,253.63 127.12,253.20 127.26,252.76 127.40,252.34 127.53,251.91 127.67,251.49 127.81,251.07 127.94,250.65 128.08,250.24 128.21,249.83 128.35,249.42 128.49,249.02 128.62,248.62 128.76,248.22 128.90,247.83 129.03,247.44 129.17,247.05 129.31,246.67 129.44,246.29 129.58,245.91 129.72,245.54 129.85,245.17 129.99,244.80 130.19,244.26 130.40,243.72 130.60,243.20 130.81,242.68 131.01,242.17 131.22,241.67 131.42,241.18 131.63,240.69 131.83,240.22 132.04,239.75 132.24,239.29 132.45,238.84 132.65,238.39 132.86,237.96 133.06,237.53 133.27,237.11 133.47,236.70 133.68,236.29 133.88,235.89 134.08,235.50 134.29,235.12 134.49,234.74 134.70,234.37 134.90,234.01 135.11,233.65 135.31,233.30 135.52,232.96 135.72,232.62 135.93,232.29 136.13,231.97 136.34,231.65 136.54,231.33 136.75,231.03 136.95,230.73 137.40,230.08 137.79,229.55 138.17,229.04 138.56,228.55 138.94,228.08 139.33,227.63 139.71,227.18 140.10,226.76 140.48,226.35 140.87,225.95 141.25,225.57 141.64,225.20 142.02,224.84 142.41,224.49 142.79,224.15 143.18,223.83 143.56,223.52 143.95,223.21 144.33,222.92 144.72,222.64 145.10,222.37 145.49,222.10 145.87,221.85 146.26,221.60 146.64,221.36 147.03,221.12 147.41,220.90 147.80,220.68 148.18,220.46 148.57,220.26 148.95,220.06 149.34,219.86 149.72,219.67 150.11,219.49 150.49,219.32 150.88,219.15 151.26,218.99 151.65,218.83 152.03,218.68 152.42,218.54 152.80,218.40 153.19,218.27 153.57,218.14 153.96,218.01 154.34,217.89 154.73,217.78 155.50,217.56 156.27,217.35 157.04,217.15 157.81,216.97 158.58,216.81 159.35,216.65 160.12,216.50 160.89,216.37 161.66,216.24 162.43,216.13 163.20,216.02 163.97,215.92 164.74,215.83 165.51,215.74 166.28,215.67 167.05,215.59 167.82,215.53 168.59,215.46 169.36,215.41 170.13,215.35 170.90,215.30 171.67,215.25 172.44,215.21 173.21,215.16 173.98,215.13 174.75,215.09 175.52,215.06 176.29,215.03 177.06,215.01 177.83,214.99 178.60,214.97 179.37,214.95 180.14,214.93 180.91,214.92 181.68,214.90 182.45,214.88 183.22,214.87 183.99,214.86 184.76,214.84 185.53,214.83 186.30,214.82 187.07,214.80 187.84,214.79 188.61,214.78 189.38,214.77 190.15,214.77 190.92,214.76 191.69,214.75 192.46,214.74 193.23,214.74 194.00,214.73 194.77,214.73 195.54,214.73 196.31,214.73 197.08,214.72 197.85,214.72 198.62,214.72 199.39,214.73 200.16,214.73 200.93,214.73 201.70,214.74 202.47,214.74 203.24,214.75 204.01,214.76 204.78,214.76 205.55,214.77 206.32,214.78 207.09,214.79 207.86,214.80 208.63,214.81 209.40,214.82 210.17,214.82 210.94,214.83 211.71,214.84 212.48,214.85 213.25,214.86 214.02,214.87 214.79,214.87 215.56,214.88 216.33,214.89 217.10,214.89 217.87,214.90 218.64,214.90 219.41,214.91 220.18,214.91 220.95,214.92 221.72,214.92 222.49,214.92 223.26,214.93 224.03,214.93 224.80,214.93 225.57,214.93 226.34,214.93 227.11,214.94 227.88,214.94 228.65,214.94 229.42,214.94 230.19,214.94 230.96,214.94 231.73,214.94 232.50,214.94 233.27,214.94 234.04,214.93 234.81,214.93 235.58,214.93 236.35,214.93 237.12,214.93 237.89,214.93 238.66,214.92 239.43,214.92 240.20,214.92 240.97,214.92 241.74,214.91 242.51,214.91 243.28,214.91 244.05,214.90 244.82,214.90 245.59,214.90 246.36,214.90 247.13,214.89 247.90,214.89 248.67,214.89 249.44,214.88 250.21,214.88 250.98,214.88 251.75,214.88 252.13,214.88" fill="none" stroke="#1410cc" stroke-width="2.45" stroke-dasharray="6.3 2.4" stroke-linejoin="round"/>
<path d="M59.89,4.86 59.96,6.69 60.02,8.51 60.09,10.32 60.16,12.12 60.23,13.92 60.30,15.70 60.37,17.47 60.43,19.24 60.50,20.99 60.57,22.74 60.64,24.48 60.71,26.21 60.77,27.93 60.84,29.64 60.91,31.34 60.98,33.03 61.05,34.71 61.12,36.39 61.18,38.05 61.25,39.71 61.32,41.36 61.39,43.00 61.46,44.63 61.53,46.25 61.59,47.87 61.66,49.48 61.73,51.07 61.80,52.66 61.87,54.24 61.94,55.82 62.00,57.38 62.07,58.94 62.14,60.49 62.21,62.03 62.28,63.56 62.34,65.08 62.41,66.60 62.48,68.11 62.55,69.61 62.62,71.10 62.69,72.59 62.75,74.07 62.82,75.54 62.89,77.00 62.96,78.46 63.03,79.90 63.10,81.34 63.16,82.78 63.23,84.20 63.30,85.62 63.37,87.03 63.44,88.43 63.51,89.83 63.57,91.22 63.64,92.60 63.71,93.97 63.78,95.34 63.85,96.70 63.91,98.05 63.98,99.40 64.05,100.74 64.12,102.07 64.19,103.40 64.26,104.72 64.32,106.03 64.39,107.34 64.46,108.64 64.53,109.93 64.60,111.21 64.67,112.49 64.73,113.76 64.80,115.03 64.87,116.29 64.94,117.54 65.01,118.79 65.08,120.03 65.14,121.26 65.21,122.49 65.28,123.71 65.35,124.93 65.42,126.14 65.48,127.34 65.55,128.54 65.62,129.73 65.69,130.91 65.76,132.09 65.83,133.27 65.89,134.43 65.96,135.59 66.03,136.75 66.10,137.90 66.17,139.04 66.24,140.18 66.30,141.31 66.37,142.44 66.44,143.56 66.51,144.67 66.58,145.78 66.65,146.89 66.71,147.99 66.78,149.08 66.85,150.17 66.92,151.25 66.99,152.32 67.05,153.40 67.12,154.46 67.19,155.52 67.26,156.58 67.33,157.63 67.40,158.67 67.46,159.71 67.53,160.74 67.60,161.77 67.67,162.80 67.74,163.82 67.81,164.83 67.87,165.84 67.94,166.84 68.01,167.84 68.08,168.83 68.15,169.82 68.22,170.80 68.28,171.78 68.35,172.76 68.42,173.73 68.49,174.69 68.56,175.65 68.62,176.60 68.69,177.55 68.76,178.50 68.83,179.44 68.90,180.37 68.97,181.30 69.03,182.23 69.10,183.15 69.17,184.07 69.24,184.98 69.31,185.89 69.38,186.79 69.44,187.69 69.51,188.59 69.58,189.48 69.65,190.36 69.72,191.24 69.79,192.12 69.85,192.99 69.92,193.86 69.99,194.72 70.06,195.58 70.13,196.44 70.19,197.29 70.26,198.14 70.33,198.98 70.40,199.82 70.47,200.65 70.54,201.48 70.60,202.31 70.67,203.13 70.74,203.95 70.81,204.76 70.88,205.57 70.95,206.37 71.01,207.18 71.08,207.97 71.15,208.77 71.22,209.56 71.29,210.34 71.35,211.12 71.42,211.90 71.49,212.68 71.56,213.45 71.63,214.21 71.70,214.97 71.76,215.73 71.83,216.49 71.90,217.24 71.97,217.99 72.04,218.73 72.11,219.47 72.17,220.20 72.24,220.94 72.31,221.67 72.38,222.39 72.45,223.11 72.52,223.83 72.58,224.54 72.65,225.25 72.72,225.96 72.79,226.66 72.86,227.36 72.92,228.06 72.99,228.75 73.06,229.44 73.13,230.12 73.20,230.81 73.27,231.48 73.33,232.16 73.40,232.83 73.47,233.50 73.54,234.16 73.61,234.82 73.68,235.48 73.74,236.13 73.81,236.78 73.88,237.43 73.95,238.08 74.02,238.72 74.09,239.35 74.15,239.99 74.22,240.62 74.29,241.24 74.36,241.87 74.43,242.49 74.49,243.11 74.56,243.72 74.63,244.33 74.70,244.94 74.77,245.54 74.84,246.14 74.90,246.74 74.97,247.34 75.04,247.93 75.11,248.52 75.18,249.10 75.25,249.68 75.31,250.26 75.38,250.84 75.45,251.41 75.52,251.98 75.59,252.54 75.66,253.11 75.72,253.66 75.79,254.22 75.86,254.77 75.93,255.32 76.00,255.87 76.06,256.42 76.13,256.96 76.20,257.49 76.27,258.03 76.34,258.56 76.41,259.09 76.47,259.62 76.54,260.14 76.61,260.66 76.68,261.17 76.75,261.69 76.82,262.20 76.88,262.70 76.95,263.21 77.02,263.71 77.09,264.21 77.16,264.70 77.23,265.20 77.29,265.69 77.36,266.17 77.43,266.66 77.50,267.14 77.57,267.61 77.63,268.09 77.70,268.56 77.77,269.03 77.84,269.49 77.91,269.96 77.98,270.42 78.04,270.87 78.11,271.33 78.18,271.78 78.25,272.23 78.32,272.67 78.39,273.11 78.45,273.55 78.52,273.99 78.59,274.42 78.73,275.28 78.86,276.13 79.00,276.96 79.14,277.79 79.27,278.60 79.41,279.40 79.55,280.19 79.68,280.97 79.82,281.74 79.96,282.49 80.09,283.24 80.23,283.97 80.37,284.69 80.50,285.40 80.64,286.10 80.77,286.79 80.91,287.47 81.05,288.14 81.18,288.79 81.32,289.44 81.46,290.07 81.59,290.69 81.73,291.30 81.87,291.90 82.00,292.49 82.14,293.07 82.28,293.64 82.41,294.20 82.55,294.75 82.69,295.28 82.82,295.81 82.96,296.32 83.10,296.82 83.23,297.32 83.37,297.80 83.51,298.27 83.64,298.73 83.78,299.18 83.91,299.62 84.05,300.05 84.19,300.47 84.32,300.88 84.46,301.27 84.60,301.66 84.73,302.04 84.87,302.40 85.08,302.93 85.28,303.44 85.48,303.92 85.69,304.38 85.89,304.82 86.10,305.23 86.30,305.63 86.51,306.00 86.71,306.35 86.92,306.68 87.12,306.98 87.40,307.36 87.67,307.69 87.94,307.99 88.21,308.25 88.56,308.53 88.90,308.75 89.24,308.91 89.65,309.04 90.13,309.08 90.60,309.02 91.01,308.88 91.35,308.71 91.70,308.48 92.04,308.21 92.31,307.95 92.58,307.65 92.86,307.32 93.13,306.96 93.40,306.57 93.61,306.25 93.81,305.91 94.02,305.56 94.22,305.18 94.43,304.79 94.63,304.38 94.84,303.94 95.04,303.49 95.25,303.02 95.45,302.54 95.66,302.03 95.86,301.50 96.06,300.96 96.20,300.59 96.34,300.20 96.47,299.81 96.61,299.41 96.75,299.00 96.88,298.59 97.02,298.16 97.16,297.73 97.29,297.29 97.43,296.84 97.57,296.38 97.70,295.91 97.84,295.44 97.98,294.95 98.11,294.46 98.25,293.96 98.39,293.45 98.52,292.93 98.66,292.41 98.80,291.88 98.93,291.33 99.07,290.78 99.20,290.23 99.34,289.66 99.48,289.08 99.61,288.50 99.75,287.91 99.89,287.31 100.02,286.71 100.16,286.09 100.30,285.47 100.43,284.84 100.57,284.20 100.71,283.55 100.84,282.89 100.98,282.23 101.12,281.56 101.25,280.88 101.39,280.20 101.53,279.51 101.66,278.81 101.80,278.10 101.93,277.39 102.07,276.67 102.21,275.94 102.34,275.21 102.48,274.47 102.62,273.73 102.75,272.97 102.89,272.22 103.03,271.45 103.16,270.68 103.30,269.91 103.44,269.13 103.57,268.34 103.71,267.55 103.85,266.76 103.98,265.96 104.12,265.15 104.26,264.34 104.39,263.52 104.53,262.70 104.67,261.88 104.80,261.05 104.94,260.22 105.07,259.38 105.21,258.54 105.35,257.70 105.48,256.85 105.62,256.00 105.76,255.14 105.89,254.29 106.03,253.42 106.10,252.99 106.17,252.56 106.24,252.13 106.30,251.69 106.37,251.26 106.44,250.82 106.51,250.39 106.58,249.95 106.64,249.51 106.71,249.07 106.78,248.64 106.85,248.20 106.92,247.76 106.99,247.32 107.05,246.88 107.12,246.44 107.19,245.99 107.26,245.55 107.33,245.11 107.40,244.67 107.46,244.22 107.53,243.78 107.60,243.34 107.67,242.89 107.74,242.45 107.81,242.00 107.87,241.56 107.94,241.11 108.01,240.66 108.08,240.22 108.15,239.77 108.21,239.32 108.28,238.88 108.35,238.43 108.42,237.98 108.49,237.53 108.56,237.09 108.62,236.64 108.69,236.19 108.76,235.74 108.83,235.29 108.90,234.84 108.97,234.39 109.03,233.94 109.10,233.49 109.17,233.05 109.24,232.60 109.31,232.15 109.38,231.70 109.44,231.25 109.51,230.80 109.58,230.35 109.65,229.90 109.72,229.45 109.78,229.00 109.85,228.55 109.92,228.10 109.99,227.65 110.06,227.20 110.13,226.75 110.19,226.30 110.26,225.85 110.33,225.40 110.40,224.95 110.47,224.50 110.54,224.05 110.60,223.61 110.67,223.16 110.74,222.71 110.81,222.26 110.88,221.81 110.95,221.36 111.01,220.92 111.08,220.47 111.15,220.02 111.22,219.57 111.29,219.13 111.35,218.68 111.42,218.23 111.49,217.79 111.56,217.34 111.63,216.90 111.70,216.45 111.76,216.00 111.83,215.56 111.90,215.12 111.97,214.67 112.04,214.23 112.11,213.78 112.17,213.34 112.24,212.90 112.31,212.46 112.38,212.01 112.45,211.57 112.52,211.13 112.58,210.69 112.65,210.25 112.72,209.81 112.79,209.37 112.86,208.93 112.92,208.49 112.99,208.05 113.06,207.62 113.13,207.18 113.20,206.74 113.27,206.31 113.33,205.87 113.40,205.43 113.47,205.00 113.54,204.57 113.61,204.13 113.68,203.70 113.74,203.27 113.81,202.83 113.95,201.97 114.09,201.11 114.22,200.25 114.36,199.40 114.49,198.54 114.63,197.69 114.77,196.85 114.90,196.00 115.04,195.16 115.18,194.32 115.31,193.49 115.45,192.65 115.59,191.82 115.72,191.00 115.86,190.18 116.00,189.36 116.13,188.55 116.27,187.74 116.41,186.93 116.54,186.13 116.68,185.33 116.82,184.54 116.95,183.75 117.09,182.96 117.22,182.19 117.36,181.41 117.50,180.64 117.63,179.88 117.77,179.11 117.91,178.36 118.04,177.61 118.18,176.86 118.32,176.12 118.45,175.38 118.59,174.65 118.73,173.92 118.86,173.20 119.00,172.48 119.14,171.77 119.27,171.06 119.41,170.36 119.55,169.66 119.68,168.97 119.82,168.28 119.96,167.60 120.09,166.92 120.23,166.25 120.36,165.58 120.50,164.92 120.64,164.26 120.77,163.60 120.91,162.96 121.05,162.31 121.18,161.67 121.32,161.04 121.46,160.41 121.59,159.79 121.73,159.17 121.87,158.55 122.00,157.94 122.14,157.34 122.28,156.74 122.41,156.14 122.55,155.55 122.69,154.96 122.82,154.37 122.96,153.80 123.10,153.22 123.23,152.65 123.37,152.08 123.50,151.52 123.64,150.96 123.78,150.41 123.91,149.86 124.05,149.31 124.19,148.77 124.32,148.23 124.46,147.69 124.60,147.16 124.73,146.64 124.87,146.11 125.01,145.60 125.14,145.08 125.28,144.57 125.42,144.06 125.55,143.56 125.69,143.06 125.83,142.57 125.96,142.07 126.10,141.59 126.24,141.10 126.37,140.62 126.51,140.15 126.64,139.67 126.78,139.20 126.92,138.74 127.05,138.28 127.19,137.82 127.33,137.37 127.46,136.92 127.60,136.47 127.74,136.03 127.87,135.59 128.01,135.15 128.15,134.72 128.28,134.29 128.42,133.86 128.56,133.44 128.69,133.02 128.83,132.61 128.97,132.20 129.10,131.79 129.24,131.39 129.38,130.99 129.51,130.59 129.65,130.20 129.78,129.81 129.92,129.42 130.06,129.04 130.19,128.66 130.33,128.28 130.47,127.91 130.60,127.55 130.74,127.18 130.94,126.64 131.15,126.11 131.35,125.58 131.56,125.07 131.76,124.56 131.97,124.05 132.17,123.56 132.38,123.07 132.58,122.59 132.79,122.12 132.99,121.65 133.20,121.19 133.40,120.74 133.61,120.30 133.81,119.86 134.02,119.43 134.22,119.01 134.43,118.59 134.63,118.18 134.84,117.78 135.04,117.38 135.25,116.99 135.45,116.61 135.65,116.23 135.86,115.86 136.06,115.50 136.27,115.14 136.47,114.79 136.68,114.44 136.88,114.10 137.40,113.25 137.79,112.65 138.17,112.07 138.56,111.51 138.94,110.96 139.33,110.43 139.71,109.92 140.10,109.43 140.48,108.95 140.87,108.48 141.25,108.03 141.64,107.59 142.02,107.17 142.41,106.75 142.79,106.35 143.18,105.97 143.56,105.59 143.95,105.22 144.33,104.87 144.72,104.52 145.10,104.19 145.49,103.87 145.87,103.55 146.26,103.25 146.64,102.95 147.03,102.66 147.41,102.39 147.80,102.12 148.18,101.85 148.57,101.60 148.95,101.36 149.34,101.12 149.72,100.89 150.11,100.66 150.49,100.44 150.88,100.23 151.26,100.03 151.65,99.83 152.03,99.64 152.42,99.45 152.80,99.27 153.19,99.09 153.57,98.92 153.96,98.75 154.34,98.59 154.73,98.43 155.11,98.27 155.50,98.12 155.88,97.97 156.27,97.82 156.65,97.68 157.04,97.54 157.42,97.40 157.81,97.26 158.19,97.13 158.58,97.00 158.96,96.87 159.35,96.74 159.73,96.62 160.12,96.50 160.50,96.38 161.27,96.16 162.04,95.94 162.81,95.74 163.58,95.55 164.35,95.37 165.12,95.21 165.89,95.06 166.66,94.91 167.43,94.78 168.20,94.66 168.97,94.54 169.74,94.43 170.51,94.32 171.28,94.22 172.05,94.12 172.82,94.03 173.59,93.94 174.36,93.85 175.13,93.77 175.90,93.70 176.67,93.62 177.44,93.55 178.21,93.49 178.98,93.42 179.75,93.36 180.52,93.31 181.29,93.25 182.06,93.20 182.83,93.15 183.60,93.11 184.37,93.06 185.14,93.02 185.91,92.98 186.68,92.95 187.45,92.91 188.22,92.88 188.99,92.84 189.76,92.81 190.53,92.78 191.30,92.76 192.07,92.73 192.84,92.70 193.61,92.68 194.38,92.65 195.15,92.63 195.92,92.60 196.69,92.58 197.46,92.56 198.23,92.53 199.00,92.51 199.77,92.49 200.54,92.46 201.31,92.44 202.08,92.41 202.85,92.39 203.62,92.36 204.39,92.34 205.16,92.31 205.93,92.29 206.70,92.26 207.47,92.24 208.24,92.21 209.01,92.19 209.78,92.16 210.55,92.14 211.32,92.12 212.09,92.10 212.86,92.08 213.63,92.06 214.40,92.04 215.17,92.02 215.94,92.00 216.71,91.99 217.48,91.97 218.25,91.96 219.02,91.94 219.79,91.93 220.56,91.92 221.33,91.91 222.10,91.90 222.87,91.89 223.64,91.88 224.41,91.87 225.18,91.87 225.95,91.86 226.72,91.86 227.49,91.85 228.26,91.85 229.03,91.84 229.80,91.84 230.57,91.84 231.34,91.83 232.11,91.83 232.88,91.83 233.65,91.83 234.42,91.83 235.19,91.83 235.96,91.83 236.73,91.83 237.50,91.83 238.27,91.83 239.04,91.84 239.81,91.84 240.58,91.84 241.35,91.84 242.12,91.85 242.89,91.85 243.66,91.85 244.43,91.86 245.20,91.86 245.97,91.86 246.74,91.87 247.51,91.87 248.28,91.87 249.05,91.88 249.82,91.88 250.59,91.88 251.36,91.88 252.13,91.88" fill="none" stroke="#1410cc" stroke-width="2.45" stroke-dasharray="6.4 2 2 2.4" stroke-linejoin="round"/>
<path d="M58.25,5.62 58.32,7.69 58.39,9.76 58.45,11.81 58.52,13.86 58.59,15.89 58.66,17.91 58.73,19.93 58.80,21.93 58.86,23.92 58.93,25.90 59.00,27.87 59.07,29.83 59.14,31.77 59.20,33.71 59.27,35.64 59.34,37.56 59.41,39.47 59.48,41.36 59.55,43.25 59.61,45.13 59.68,47.00 59.75,48.85 59.82,50.70 59.89,52.54 59.96,54.37 60.02,56.19 60.09,58.00 60.16,59.80 60.23,61.59 60.30,63.37 60.37,65.14 60.43,66.90 60.50,68.65 60.57,70.39 60.64,72.13 60.71,73.85 60.77,75.57 60.84,77.28 60.91,78.97 60.98,80.66 61.05,82.34 61.12,84.01 61.18,85.67 61.25,87.33 61.32,88.97 61.39,90.61 61.46,92.23 61.53,93.85 61.59,95.46 61.66,97.06 61.73,98.66 61.80,100.24 61.87,101.82 61.94,103.38 62.00,104.94 62.07,106.49 62.14,108.04 62.21,109.57 62.28,111.10 62.34,112.62 62.41,114.13 62.48,115.63 62.55,117.12 62.62,118.61 62.69,120.09 62.75,121.56 62.82,123.02 62.89,124.48 62.96,125.93 63.03,127.37 63.10,128.80 63.16,130.23 63.23,131.64 63.30,133.05 63.37,134.46 63.44,135.85 63.51,137.24 63.57,138.62 63.64,139.99 63.71,141.36 63.78,142.72 63.85,144.07 63.91,145.41 63.98,146.75 64.05,148.08 64.12,149.40 64.19,150.72 64.26,152.03 64.32,153.33 64.39,154.62 64.46,155.91 64.53,157.19 64.60,158.47 64.67,159.74 64.73,161.00 64.80,162.25 64.87,163.50 64.94,164.74 65.01,165.98 65.08,167.20 65.14,168.43 65.21,169.64 65.28,170.85 65.35,172.05 65.42,173.25 65.48,174.44 65.55,175.62 65.62,176.80 65.69,177.97 65.76,179.14 65.83,180.30 65.89,181.45 65.96,182.59 66.03,183.73 66.10,184.87 66.17,186.00 66.24,187.12 66.30,188.24 66.37,189.35 66.44,190.45 66.51,191.55 66.58,192.64 66.65,193.73 66.71,194.81 66.78,195.89 66.85,196.96 66.92,198.02 66.99,199.08 67.05,200.13 67.12,201.18 67.19,202.22 67.26,203.26 67.33,204.29 67.40,205.32 67.46,206.34 67.53,207.35 67.60,208.36 67.67,209.36 67.74,210.36 67.81,211.36 67.87,212.34 67.94,213.33 68.01,214.30 68.08,215.28 68.15,216.24 68.22,217.20 68.28,218.16 68.35,219.11 68.42,220.06 68.49,221.00 68.56,221.94 68.62,222.87 68.69,223.80 68.76,224.72 68.83,225.63 68.90,226.55 68.97,227.45 69.03,228.35 69.10,229.25 69.17,230.14 69.24,231.03 69.31,231.91 69.38,232.79 69.44,233.66 69.51,234.53 69.58,235.40 69.65,236.26 69.72,237.11 69.79,237.96 69.85,238.81 69.92,239.65 69.99,240.48 70.06,241.31 70.13,242.14 70.19,242.96 70.26,243.78 70.33,244.60 70.40,245.41 70.47,246.21 70.54,247.01 70.60,247.81 70.67,248.60 70.74,249.39 70.81,250.17 70.88,250.95 70.95,251.73 71.01,252.50 71.08,253.26 71.15,254.03 71.22,254.78 71.29,255.54 71.35,256.29 71.42,257.03 71.49,257.77 71.56,258.51 71.63,259.25 71.70,259.97 71.76,260.70 71.83,261.42 71.90,262.14 71.97,262.85 72.04,263.56 72.11,264.27 72.17,264.97 72.24,265.67 72.31,266.36 72.38,267.05 72.45,267.74 72.52,268.42 72.58,269.10 72.65,269.77 72.72,270.45 72.79,271.11 72.86,271.78 72.92,272.44 72.99,273.09 73.06,273.75 73.13,274.39 73.20,275.04 73.27,275.68 73.33,276.32 73.40,276.95 73.47,277.58 73.54,278.21 73.61,278.84 73.68,279.46 73.74,280.07 73.81,280.69 73.88,281.29 73.95,281.90 74.02,282.50 74.09,283.10 74.15,283.70 74.22,284.29 74.29,284.88 74.36,285.47 74.43,286.05 74.49,286.63 74.56,287.20 74.63,287.77 74.70,288.34 74.77,288.91 74.84,289.47 74.90,290.03 74.97,290.58 75.04,291.14 75.11,291.68 75.18,292.23 75.25,292.77 75.31,293.31 75.38,293.85 75.45,294.38 75.52,294.91 75.59,295.43 75.66,295.96 75.72,296.48 75.79,296.99 75.86,297.51 75.93,298.02 76.00,298.53 76.06,299.03 76.13,299.53 76.20,300.03 76.27,300.52 76.34,301.01 76.41,301.50 76.47,301.99 76.54,302.47 76.61,302.95 76.68,303.43 76.75,303.90 76.82,304.37 76.88,304.84 76.95,305.30 77.02,305.77 77.09,306.22 77.16,306.68 77.23,307.13 77.29,307.58 77.36,308.03 77.43,308.47 77.50,308.91 77.57,309.35 77.63,309.79 77.70,310.22 77.84,311.08 77.98,311.92 78.11,312.75 78.25,313.58 78.39,314.39 78.52,315.19 78.66,315.98 78.80,316.75 78.93,317.52 79.07,318.28 79.20,319.02 79.34,319.76 79.48,320.48 79.61,321.20 79.75,321.90 79.89,322.59 80.02,323.28 80.16,323.95 80.30,324.61 80.43,325.27 80.57,325.91 80.71,326.55 80.84,327.17 80.98,327.79 81.12,328.39 81.25,328.99 81.39,329.58 81.53,330.16 81.66,330.73 81.80,331.29 81.94,331.84 82.07,332.38 82.21,332.91 82.34,333.43 82.48,333.95 82.62,334.46 82.75,334.95 82.89,335.44 83.03,335.92 83.16,336.39 83.30,336.86 83.44,337.31 83.57,337.76 83.71,338.19 83.85,338.62 83.98,339.05 84.12,339.46 84.26,339.86 84.39,340.26 84.53,340.65 84.67,341.03 84.80,341.40 84.94,341.77 85.14,342.30 85.35,342.81 85.55,343.31 85.76,343.78 85.96,344.24 86.17,344.68 86.37,345.10 86.58,345.51 86.78,345.90 86.99,346.26 87.19,346.62 87.40,346.95 87.60,347.26 87.81,347.56 88.08,347.93 88.35,348.26 88.62,348.57 88.90,348.84 89.17,349.07 89.51,349.32 89.85,349.52 90.26,349.69 90.67,349.78 91.22,349.78 91.70,349.68 92.11,349.50 92.45,349.30 92.79,349.04 93.06,348.80 93.33,348.53 93.61,348.22 93.88,347.88 94.15,347.51 94.36,347.20 94.56,346.88 94.77,346.55 94.97,346.19 95.18,345.81 95.38,345.42 95.59,345.01 95.79,344.58 96.00,344.13 96.20,343.66 96.41,343.18 96.61,342.68 96.82,342.16 97.02,341.62 97.16,341.26 97.29,340.88 97.43,340.50 97.57,340.11 97.70,339.71 97.84,339.30 97.98,338.89 98.11,338.47 98.25,338.04 98.39,337.61 98.52,337.16 98.66,336.71 98.80,336.26 98.93,335.79 99.07,335.32 99.20,334.84 99.34,334.36 99.48,333.86 99.61,333.36 99.75,332.86 99.89,332.34 100.02,331.82 100.16,331.30 100.30,330.76 100.43,330.22 100.57,329.67 100.71,329.12 100.84,328.56 100.98,327.99 101.12,327.42 101.25,326.84 101.39,326.25 101.53,325.66 101.66,325.06 101.80,324.46 101.93,323.85 102.07,323.23 102.21,322.61 102.34,321.98 102.48,321.35 102.62,320.71 102.75,320.07 102.89,319.42 103.03,318.76 103.16,318.10 103.30,317.44 103.44,316.77 103.57,316.10 103.71,315.42 103.85,314.74 103.98,314.05 104.12,313.36 104.26,312.66 104.39,311.96 104.53,311.25 104.67,310.54 104.80,309.83 104.94,309.11 105.07,308.39 105.21,307.67 105.35,306.94 105.48,306.20 105.62,305.46 105.76,304.72 105.89,303.98 106.03,303.23 106.17,302.48 106.30,301.72 106.44,300.96 106.58,300.20 106.71,299.43 106.85,298.67 106.99,297.89 107.12,297.12 107.26,296.34 107.40,295.56 107.53,294.77 107.67,293.98 107.81,293.19 107.94,292.40 108.08,291.60 108.21,290.80 108.35,290.00 108.49,289.19 108.62,288.38 108.76,287.57 108.90,286.76 109.03,285.94 109.17,285.12 109.31,284.30 109.44,283.48 109.58,282.65 109.72,281.83 109.85,281.00 109.99,280.17 110.13,279.33 110.26,278.50 110.40,277.66 110.54,276.83 110.67,275.99 110.81,275.15 110.95,274.31 111.08,273.47 111.22,272.63 111.35,271.79 111.49,270.95 111.63,270.10 111.76,269.26 111.90,268.42 112.04,267.58 112.17,266.74 112.31,265.90 112.45,265.06 112.58,264.22 112.72,263.38 112.86,262.55 112.99,261.71 113.13,260.88 113.27,260.05 113.40,259.22 113.54,258.39 113.68,257.57 113.81,256.75 113.95,255.93 114.09,255.11 114.22,254.30 114.36,253.49 114.49,252.68 114.63,251.88 114.77,251.08 114.90,250.28 115.04,249.49 115.18,248.70 115.31,247.92 115.45,247.14 115.59,246.36 115.72,245.58 115.86,244.81 116.00,244.05 116.13,243.28 116.27,242.52 116.41,241.77 116.54,241.02 116.68,240.27 116.82,239.53 116.95,238.79 117.09,238.05 117.22,237.32 117.36,236.59 117.50,235.87 117.63,235.15 117.77,234.43 117.91,233.72 118.04,233.01 118.18,232.30 118.32,231.60 118.45,230.90 118.59,230.21 118.73,229.51 118.86,228.83 119.00,228.14 119.14,227.46 119.27,226.78 119.41,226.11 119.55,225.44 119.68,224.77 119.82,224.11 119.96,223.45 120.09,222.79 120.23,222.13 120.36,221.48 120.50,220.84 120.64,220.19 120.77,219.55 120.91,218.91 121.05,218.28 121.18,217.65 121.32,217.02 121.46,216.40 121.59,215.78 121.73,215.17 121.87,214.56 122.00,213.95 122.14,213.35 122.28,212.75 122.41,212.16 122.55,211.57 122.69,210.99 122.82,210.41 122.96,209.84 123.10,209.27 123.23,208.70 123.37,208.14 123.50,207.58 123.64,207.03 123.78,206.49 123.91,205.94 124.05,205.40 124.19,204.87 124.32,204.34 124.46,203.82 124.60,203.30 124.73,202.78 124.87,202.27 125.01,201.76 125.14,201.25 125.28,200.76 125.42,200.26 125.55,199.77 125.69,199.28 125.83,198.80 125.96,198.32 126.10,197.84 126.24,197.37 126.37,196.90 126.51,196.44 126.64,195.98 126.78,195.52 126.92,195.07 127.05,194.62 127.19,194.18 127.33,193.74 127.46,193.30 127.60,192.87 127.74,192.44 127.87,192.02 128.01,191.59 128.15,191.18 128.28,190.76 128.42,190.35 128.56,189.95 128.69,189.55 128.83,189.15 128.97,188.76 129.10,188.37 129.24,187.98 129.38,187.60 129.51,187.22 129.65,186.85 129.78,186.48 129.92,186.11 130.13,185.57 130.33,185.03 130.54,184.50 130.74,183.99 130.94,183.48 131.15,182.98 131.35,182.49 131.56,182.00 131.76,181.53 131.97,181.06 132.17,180.60 132.38,180.15 132.58,179.71 132.79,179.27 132.99,178.84 133.20,178.42 133.40,178.01 133.61,177.60 133.81,177.20 134.02,176.81 134.22,176.42 134.43,176.04 134.63,175.67 134.84,175.30 135.04,174.94 135.25,174.58 135.45,174.24 135.65,173.89 135.86,173.56 136.06,173.22 136.27,172.90 136.47,172.58 136.68,172.26 136.88,171.95 137.40,171.18 137.79,170.63 138.17,170.10 138.56,169.58 138.94,169.09 139.33,168.60 139.71,168.13 140.10,167.68 140.48,167.24 140.87,166.81 141.25,166.40 141.64,166.00 142.02,165.61 142.41,165.23 142.79,164.87 143.18,164.51 143.56,164.17 143.95,163.84 144.33,163.52 144.72,163.20 145.10,162.90 145.49,162.61 145.87,162.32 146.26,162.05 146.64,161.78 147.03,161.53 147.41,161.28 147.80,161.04 148.18,160.80 148.57,160.58 148.95,160.36 149.34,160.14 149.72,159.94 150.11,159.74 150.49,159.55 150.88,159.36 151.26,159.18 151.65,159.00 152.03,158.83 152.42,158.67 152.80,158.51 153.19,158.35 153.57,158.20 153.96,158.05 154.34,157.91 154.73,157.78 155.11,157.64 155.50,157.51 155.88,157.39 156.27,157.27 156.65,157.15 157.42,156.93 158.19,156.72 158.96,156.53 159.73,156.34 160.50,156.17 161.27,156.01 162.04,155.86 162.81,155.71 163.58,155.57 164.35,155.44 165.12,155.32 165.89,155.21 166.66,155.10 167.43,155.00 168.20,154.90 168.97,154.81 169.74,154.72 170.51,154.64 171.28,154.57 172.05,154.49 172.82,154.43 173.59,154.36 174.36,154.30 175.13,154.24 175.90,154.18 176.67,154.13 177.44,154.08 178.21,154.03 178.98,153.98 179.75,153.93 180.52,153.89 181.29,153.85 182.06,153.81 182.83,153.78 183.60,153.74 184.37,153.71 185.14,153.68 185.91,153.65 186.68,153.62 187.45,153.59 188.22,153.57 188.99,153.55 189.76,153.53 190.53,153.51 191.30,153.49 192.07,153.47 192.84,153.46 193.61,153.45 194.38,153.43 195.15,153.42 195.92,153.41 196.69,153.40 197.46,153.39 198.23,153.39 199.00,153.38 199.77,153.38 200.54,153.37 201.31,153.37 202.08,153.36 202.85,153.36 203.62,153.36 204.39,153.36 205.16,153.36 205.93,153.36 206.70,153.36 207.47,153.36 208.24,153.36 209.01,153.36 209.78,153.36 210.55,153.36 211.32,153.37 212.09,153.37 212.86,153.37 213.63,153.37 214.40,153.37 215.17,153.38 215.94,153.38 216.71,153.38 217.48,153.38 218.25,153.38 219.02,153.38 219.79,153.38 220.56,153.38 221.33,153.38 222.10,153.39 222.87,153.39 223.64,153.39 224.41,153.39 225.18,153.39 225.95,153.39 226.72,153.39 227.49,153.39 228.26,153.39 229.03,153.39 229.80,153.39 230.57,153.39 231.34,153.39 232.11,153.39 232.88,153.39 233.65,153.39 234.42,153.39 235.19,153.39 235.96,153.39 236.73,153.39 237.50,153.39 238.27,153.39 239.04,153.39 239.81,153.39 240.58,153.39 241.35,153.39 242.12,153.39 242.89,153.39 243.66,153.39 244.43,153.39 245.20,153.39 245.97,153.39 246.74,153.39 247.51,153.38 248.28,153.38 249.05,153.38 249.82,153.38 250.59,153.38 251.36,153.38 252.13,153.38" fill="none" stroke="#000" stroke-width="3.4" stroke-linejoin="round"/>
</g>
<g clip-path="url(#cr)">
<path d="M320.80,15.63 320.82,17.63 320.85,19.61 320.87,21.58 320.89,23.54 320.92,25.48 320.94,27.41 320.96,29.33 320.98,31.23 321.01,33.12 321.03,35.00 321.05,36.87 321.08,38.72 321.10,40.57 321.12,42.40 321.15,44.21 321.17,46.02 321.19,47.81 321.22,49.60 321.24,51.37 321.26,53.13 321.28,54.88 321.31,56.61 321.33,58.34 321.35,60.05 321.38,61.76 321.40,63.45 321.42,65.13 321.45,66.80 321.47,68.46 321.49,70.11 321.52,71.75 321.54,73.38 321.56,75.00 321.58,76.61 321.61,78.21 321.63,79.80 321.65,81.38 321.68,82.95 321.70,84.51 321.72,86.06 321.75,87.60 321.77,89.13 321.79,90.65 321.82,92.17 321.84,93.67 321.86,95.16 321.88,96.65 321.91,98.13 321.93,99.59 321.95,101.05 321.98,102.50 322.00,103.94 322.02,105.37 322.05,106.80 322.07,108.21 322.09,109.62 322.12,111.01 322.14,112.40 322.16,113.79 322.18,115.16 322.21,116.52 322.23,117.88 322.25,119.23 322.28,120.57 322.30,121.90 322.32,123.23 322.35,124.55 322.37,125.86 322.39,127.16 322.42,128.45 322.44,129.74 322.46,131.02 322.48,132.29 322.51,133.55 322.53,134.81 322.55,136.06 322.58,137.30 322.60,138.54 322.62,139.77 322.65,140.99 322.67,142.20 322.69,143.41 322.72,144.61 322.74,145.80 322.76,146.99 322.79,148.16 322.81,149.34 322.83,150.50 322.85,151.66 322.88,152.81 322.90,153.96 322.92,155.10 322.95,156.23 322.97,157.36 322.99,158.48 323.02,159.59 323.04,160.70 323.06,161.80 323.09,162.90 323.11,163.99 323.13,165.07 323.15,166.14 323.18,167.21 323.20,168.28 323.22,169.34 323.25,170.39 323.27,171.44 323.29,172.48 323.32,173.51 323.34,174.54 323.36,175.56 323.39,176.58 323.41,177.59 323.43,178.60 323.45,179.60 323.48,180.59 323.50,181.58 323.52,182.57 323.55,183.54 323.57,184.52 323.59,185.48 323.62,186.45 323.64,187.40 323.66,188.35 323.69,189.30 323.71,190.24 323.73,191.18 323.75,192.11 323.78,193.03 323.80,193.95 323.82,194.87 323.85,195.78 323.87,196.68 323.89,197.58 323.92,198.47 323.94,199.36 323.96,200.25 323.99,201.13 324.01,202.00 324.03,202.88 324.05,203.74 324.08,204.60 324.10,205.46 324.12,206.31 324.15,207.16 324.17,208.00 324.19,208.84 324.22,209.67 324.24,210.50 324.26,211.32 324.29,212.14 324.31,212.95 324.33,213.76 324.35,214.57 324.38,215.37 324.40,216.17 324.42,216.96 324.45,217.75 324.47,218.53 324.49,219.31 324.52,220.09 324.54,220.86 324.56,221.63 324.59,222.39 324.61,223.15 324.63,223.90 324.65,224.65 324.68,225.40 324.70,226.14 324.72,226.88 324.75,227.62 324.77,228.35 324.79,229.07 324.82,229.79 324.84,230.51 324.86,231.23 324.89,231.94 324.91,232.64 324.93,233.35 324.95,234.05 324.98,234.74 325.00,235.43 325.02,236.12 325.05,236.80 325.07,237.48 325.09,238.16 325.12,238.83 325.14,239.50 325.16,240.17 325.19,240.83 325.21,241.49 325.23,242.14 325.25,242.80 325.28,243.44 325.30,244.09 325.32,244.73 325.35,245.37 325.37,246.00 325.39,246.63 325.42,247.26 325.44,247.88 325.46,248.50 325.49,249.12 325.51,249.73 325.53,250.34 325.55,250.95 325.58,251.55 325.60,252.15 325.62,252.75 325.65,253.34 325.67,253.93 325.69,254.52 325.72,255.11 325.74,255.69 325.76,256.26 325.79,256.84 325.81,257.41 325.83,257.98 325.85,258.55 325.88,259.11 325.90,259.67 325.92,260.22 325.95,260.78 325.97,261.33 325.99,261.88 326.02,262.42 326.04,262.96 326.06,263.50 326.09,264.04 326.11,264.57 326.13,265.10 326.16,265.63 326.18,266.15 326.20,266.67 326.22,267.19 326.25,267.71 326.27,268.22 326.29,268.73 326.32,269.24 326.34,269.74 326.36,270.25 326.39,270.75 326.41,271.24 326.43,271.74 326.46,272.23 326.48,272.72 326.50,273.20 326.52,273.69 326.55,274.17 326.57,274.65 326.62,275.60 326.66,276.54 326.71,277.46 326.76,278.38 326.80,279.29 326.85,280.19 326.89,281.08 326.94,281.96 326.99,282.83 327.03,283.69 327.08,284.54 327.12,285.39 327.17,286.22 327.22,287.05 327.26,287.86 327.31,288.67 327.36,289.47 327.40,290.26 327.45,291.04 327.49,291.81 327.54,292.58 327.59,293.33 327.63,294.08 327.68,294.82 327.72,295.56 327.77,296.28 327.82,297.00 327.86,297.71 327.91,298.41 327.96,299.10 328.00,299.79 328.05,300.47 328.09,301.14 328.14,301.81 328.19,302.46 328.23,303.11 328.28,303.76 328.32,304.40 328.37,305.02 328.42,305.65 328.46,306.26 328.51,306.87 328.56,307.48 328.60,308.07 328.65,308.67 328.69,309.25 328.74,309.83 328.79,310.40 328.83,310.96 328.88,311.52 328.92,312.08 328.97,312.62 329.02,313.17 329.06,313.70 329.11,314.23 329.16,314.76 329.20,315.28 329.25,315.79 329.29,316.30 329.34,316.80 329.39,317.30 329.43,317.79 329.48,318.27 329.53,318.75 329.57,319.23 329.62,319.70 329.66,320.17 329.71,320.63 329.76,321.08 329.83,321.76 329.89,322.42 329.96,323.07 330.03,323.71 330.10,324.35 330.17,324.97 330.24,325.58 330.31,326.18 330.38,326.77 330.45,327.36 330.52,327.93 330.59,328.49 330.66,329.05 330.73,329.60 330.79,330.13 330.86,330.66 330.93,331.18 331.00,331.69 331.07,332.20 331.14,332.69 331.21,333.18 331.28,333.66 331.35,334.13 331.42,334.59 331.49,335.05 331.56,335.50 331.63,335.94 331.69,336.38 331.79,336.94 331.88,337.50 331.97,338.04 332.06,338.58 332.16,339.10 332.25,339.61 332.34,340.11 332.43,340.60 332.53,341.07 332.62,341.54 332.71,342.00 332.80,342.45 332.89,342.88 332.99,343.31 333.08,343.73 333.17,344.14 333.29,344.64 333.40,345.13 333.52,345.60 333.63,346.06 333.75,346.51 333.86,346.94 333.98,347.37 334.10,347.78 334.21,348.18 334.33,348.57 334.46,349.03 334.60,349.47 334.74,349.89 334.88,350.30 335.02,350.70 335.16,351.09 335.30,351.46 335.46,351.88 335.62,352.28 335.78,352.67 335.94,353.04 336.10,353.40 336.26,353.74 336.45,354.12 336.63,354.48 336.82,354.83 337.00,355.16 337.21,355.51 337.42,355.85 337.63,356.17 337.83,356.47 338.07,356.79 338.30,357.09 338.53,357.37 338.78,357.67 339.03,357.94 339.29,358.20 339.57,358.47 339.84,358.71 340.12,358.94 340.42,359.17 340.72,359.38 341.04,359.59 341.37,359.79 341.69,359.96 342.04,360.14 342.38,360.29 342.75,360.45 343.12,360.58 343.51,360.71 343.91,360.83 344.32,360.93 344.74,361.03 345.17,361.11 345.61,361.19 346.05,361.25 346.51,361.31 346.98,361.35 347.46,361.39 347.94,361.42 348.43,361.44 348.91,361.46 349.42,361.47 349.93,361.47 350.44,361.47 350.95,361.46 351.45,361.45 351.96,361.44 352.45,361.42 352.93,361.41 353.41,361.39 353.90,361.36 354.38,361.34 354.87,361.31 355.35,361.29 356.01,361.25 356.62,361.21 357.22,361.18 357.83,361.14 358.44,361.10 359.05,361.06 359.65,361.02 360.26,360.98 360.87,360.94 361.48,360.89 362.08,360.85 362.69,360.81 363.30,360.77 363.91,360.73 364.51,360.69 365.12,360.65 365.73,360.61 366.34,360.57 366.94,360.53 367.55,360.49 368.16,360.45 368.77,360.41 369.37,360.37 369.98,360.33 370.59,360.29 371.20,360.26 371.80,360.22 372.41,360.18 373.02,360.15 373.63,360.11 374.23,360.07 374.84,360.04 375.45,360.00 376.06,359.97 376.66,359.93 377.27,359.90 377.88,359.87 378.49,359.83 379.09,359.80 379.70,359.77 380.31,359.73 380.92,359.70 381.52,359.67 382.13,359.64 382.74,359.61 383.35,359.58 383.95,359.55 384.56,359.52 385.17,359.49 385.78,359.46 386.38,359.43 386.99,359.40 387.60,359.37 388.21,359.35 388.81,359.32 389.42,359.29 390.03,359.26 390.64,359.24 391.24,359.21 391.85,359.18 392.46,359.16 393.07,359.13 393.67,359.11 394.28,359.08 394.89,359.06 395.50,359.03 396.10,359.01 396.71,358.98 397.32,358.96 397.93,358.94 398.53,358.91 399.14,358.89 399.75,358.87 400.36,358.84 400.96,358.82 401.57,358.80 402.18,358.78 402.79,358.76 403.39,358.74 404.00,358.71 404.61,358.69 405.22,358.67 405.82,358.65 406.43,358.63 407.04,358.61 407.65,358.59 408.25,358.57 408.86,358.55 409.47,358.53 410.08,358.52 410.68,358.50 411.29,358.48 411.90,358.46 412.51,358.44 413.11,358.42 413.72,358.41 414.33,358.39 414.94,358.37 415.54,358.35 416.15,358.34 416.76,358.32 417.37,358.30 417.98,358.29 418.58,358.27 419.19,358.26 419.80,358.24 420.41,358.22 421.01,358.21 421.62,358.19 422.23,358.18 422.84,358.16 423.44,358.15 424.05,358.13 424.66,358.12 425.27,358.10 425.87,358.09 426.48,358.08 427.09,358.06 427.70,358.05 428.30,358.04 428.91,358.02 429.52,358.01 430.13,358.00 430.73,357.98 431.34,357.97 431.95,357.96 432.56,357.94 433.16,357.93 433.77,357.92 434.38,357.91 434.99,357.89 435.59,357.88 436.20,357.87 436.81,357.86 437.42,357.85 438.02,357.84 438.63,357.83 439.24,357.81 439.85,357.80 440.45,357.79 441.06,357.78 441.67,357.77 442.28,357.76 442.88,357.75 443.49,357.74 444.10,357.73 444.71,357.72 445.31,357.71 445.92,357.70 446.53,357.69 447.14,357.68 447.74,357.67 448.35,357.66 448.96,357.65 449.57,357.64 450.17,357.63 450.78,357.62 451.39,357.61 452.00,357.61 452.60,357.60 453.21,357.59 453.82,357.58 454.43,357.57 455.03,357.56 455.64,357.55 456.25,357.55 456.86,357.54 457.46,357.53 458.07,357.52 458.68,357.51 459.29,357.51 459.89,357.50 460.50,357.49 461.11,357.48 461.72,357.48 462.32,357.47 462.93,357.46 463.54,357.45 464.15,357.45 464.75,357.44 465.36,357.43 465.97,357.43 466.58,357.42 467.18,357.41 467.79,357.41 468.40,357.40 469.01,357.39 469.61,357.39 470.22,357.38 470.83,357.37 471.44,357.37 472.04,357.36 472.65,357.36 473.26,357.35 473.87,357.34 474.47,357.34 475.08,357.33 475.69,357.33 476.30,357.32 476.91,357.31 477.51,357.31 478.12,357.30 478.73,357.30 479.34,357.29 479.94,357.29 480.55,357.28 481.16,357.28 481.77,357.27 482.37,357.27 482.98,357.26 483.59,357.26 484.20,357.25 484.80,357.25 485.41,357.24 486.02,357.24 486.63,357.23 487.23,357.23 487.84,357.22 488.45,357.22 489.06,357.21 489.66,357.21 490.27,357.20 490.88,357.20 491.49,357.20 492.09,357.19 492.70,357.19 493.31,357.18 493.92,357.18 494.52,357.17 495.13,357.17 495.74,357.17 496.35,357.16 496.95,357.16 497.56,357.15 498.17,357.15 498.78,357.15 499.38,357.14 499.99,357.14 500.60,357.14 501.21,357.13 501.81,357.13 502.42,357.12 503.03,357.12 503.64,357.12 504.24,357.11 504.85,357.11 505.46,357.11 506.07,357.10 506.67,357.10 507.28,357.10 507.89,357.09 508.50,357.09 509.10,357.09 509.71,357.08 510.32,357.08 510.93,357.08 511.53,357.08 512.14,357.07 512.75,357.07 513.36,357.07 513.96,357.06 514.57,357.06 515.18,357.06 515.79,357.05 516.39,357.05 517.00,357.05 517.61,357.05 518.22,357.04 518.82,357.04 519.43,357.04 520.04,357.04 520.65,357.03 521.25,357.03 521.86,357.03 522.47,357.03 523.08,357.02 523.68,357.02 524.29,357.02 524.90,357.02 525.51,357.01 526.11,357.01 526.72,357.01 527.33,357.01 527.94,357.00 528.54,357.00 529.15,357.00 529.76,357.00 530.37,357.00 530.97,356.99 531.58,356.99 532.19,356.99 532.80,356.99 533.40,356.99 534.01,356.98 534.62,356.98 535.23,356.98 535.83,356.98 536.44,356.98 537.05,356.97" fill="none" stroke="#d614d6" stroke-width="2.45" stroke-dasharray="6.3 2.4" stroke-linejoin="round"/>
<path d="M320.80,15.63 320.82,17.26 320.85,18.89 320.87,20.52 320.89,22.13 320.92,23.75 320.94,25.35 320.96,26.95 320.98,28.55 321.01,30.13 321.03,31.72 321.05,33.29 321.08,34.86 321.10,36.43 321.12,37.99 321.15,39.54 321.17,41.09 321.19,42.63 321.22,44.16 321.24,45.69 321.26,47.21 321.28,48.73 321.31,50.24 321.33,51.74 321.35,53.24 321.38,54.73 321.40,56.22 321.42,57.69 321.45,59.17 321.47,60.63 321.49,62.10 321.52,63.55 321.54,65.00 321.56,66.44 321.58,67.88 321.61,69.31 321.63,70.73 321.65,72.15 321.68,73.56 321.70,74.96 321.72,76.36 321.75,77.76 321.77,79.14 321.79,80.52 321.82,81.90 321.84,83.27 321.86,84.63 321.88,85.99 321.91,87.34 321.93,88.68 321.95,90.02 321.98,91.35 322.00,92.68 322.02,94.00 322.05,95.31 322.07,96.62 322.09,97.92 322.12,99.21 322.14,100.50 322.16,101.79 322.18,103.07 322.21,104.34 322.23,105.60 322.25,106.86 322.28,108.12 322.30,109.37 322.32,110.61 322.35,111.84 322.37,113.07 322.39,114.30 322.42,115.52 322.44,116.73 322.46,117.94 322.48,119.14 322.51,120.34 322.53,121.53 322.55,122.71 322.58,123.89 322.60,125.06 322.62,126.23 322.65,127.39 322.67,128.55 322.69,129.70 322.72,130.84 322.74,131.98 322.76,133.11 322.79,134.24 322.81,135.36 322.83,136.48 322.85,137.59 322.88,138.70 322.90,139.80 322.92,140.89 322.95,141.98 322.97,143.07 322.99,144.15 323.02,145.22 323.04,146.29 323.06,147.35 323.09,148.41 323.11,149.46 323.13,150.51 323.15,151.55 323.18,152.59 323.20,153.62 323.22,154.65 323.25,155.67 323.27,156.69 323.29,157.70 323.32,158.70 323.34,159.71 323.36,160.70 323.39,161.69 323.41,162.68 323.43,163.66 323.45,164.64 323.48,165.61 323.50,166.57 323.52,167.54 323.55,168.49 323.57,169.44 323.59,170.39 323.62,171.33 323.64,172.27 323.66,173.20 323.69,174.13 323.71,175.05 323.73,175.97 323.75,176.89 323.78,177.80 323.80,178.70 323.82,179.60 323.85,180.50 323.87,181.39 323.89,182.27 323.92,183.15 323.94,184.03 323.96,184.90 323.99,185.77 324.01,186.64 324.03,187.49 324.05,188.35 324.08,189.20 324.10,190.05 324.12,190.89 324.15,191.72 324.17,192.56 324.19,193.39 324.22,194.21 324.24,195.03 324.26,195.85 324.29,196.66 324.31,197.47 324.33,198.27 324.35,199.07 324.38,199.86 324.40,200.66 324.42,201.44 324.45,202.23 324.47,203.00 324.49,203.78 324.52,204.55 324.54,205.32 324.56,206.08 324.59,206.84 324.61,207.59 324.63,208.34 324.65,209.09 324.68,209.83 324.70,210.57 324.72,211.31 324.75,212.04 324.77,212.77 324.79,213.49 324.82,214.21 324.84,214.93 324.86,215.64 324.89,216.35 324.91,217.06 324.93,217.76 324.95,218.46 324.98,219.15 325.00,219.84 325.02,220.53 325.05,221.21 325.07,221.89 325.09,222.57 325.12,223.24 325.14,223.91 325.16,224.58 325.19,225.24 325.21,225.90 325.23,226.56 325.25,227.21 325.28,227.86 325.30,228.50 325.32,229.15 325.35,229.78 325.37,230.42 325.39,231.05 325.42,231.68 325.44,232.31 325.46,232.93 325.49,233.55 325.51,234.16 325.53,234.77 325.55,235.38 325.58,235.99 325.60,236.59 325.62,237.19 325.65,237.79 325.67,238.38 325.69,238.97 325.72,239.56 325.74,240.14 325.76,240.73 325.79,241.30 325.81,241.88 325.83,242.45 325.85,243.02 325.88,243.59 325.90,244.15 325.92,244.71 325.95,245.27 325.97,245.82 325.99,246.37 326.02,246.92 326.04,247.46 326.06,248.01 326.09,248.55 326.11,249.08 326.13,249.62 326.16,250.15 326.18,250.68 326.20,251.20 326.22,251.73 326.25,252.25 326.27,252.76 326.29,253.28 326.32,253.79 326.34,254.30 326.36,254.81 326.39,255.31 326.41,255.81 326.43,256.31 326.46,256.81 326.48,257.30 326.50,257.79 326.52,258.28 326.55,258.77 326.57,259.25 326.59,259.73 326.62,260.21 326.66,261.16 326.71,262.10 326.76,263.03 326.80,263.94 326.85,264.85 326.89,265.75 326.94,266.64 326.99,267.53 327.03,268.40 327.08,269.26 327.12,270.11 327.17,270.96 327.22,271.79 327.26,272.62 327.31,273.44 327.36,274.25 327.40,275.05 327.45,275.84 327.49,276.63 327.54,277.40 327.59,278.17 327.63,278.93 327.68,279.68 327.72,280.43 327.77,281.16 327.82,281.89 327.86,282.61 327.91,283.33 327.96,284.03 328.00,284.73 328.05,285.42 328.09,286.11 328.14,286.78 328.19,287.45 328.23,288.12 328.28,288.77 328.32,289.42 328.37,290.06 328.42,290.70 328.46,291.32 328.51,291.95 328.56,292.56 328.60,293.17 328.65,293.77 328.69,294.37 328.74,294.96 328.79,295.54 328.83,296.12 328.88,296.69 328.92,297.26 328.97,297.82 329.02,298.37 329.06,298.92 329.11,299.46 329.16,300.00 329.20,300.53 329.25,301.05 329.29,301.57 329.34,302.09 329.39,302.59 329.43,303.10 329.48,303.60 329.53,304.09 329.57,304.58 329.62,305.06 329.66,305.54 329.71,306.01 329.76,306.48 329.80,306.94 329.85,307.40 329.92,308.08 329.99,308.74 330.06,309.40 330.13,310.05 330.19,310.68 330.26,311.31 330.33,311.93 330.40,312.53 330.47,313.13 330.54,313.72 330.61,314.30 330.68,314.87 330.75,315.43 330.82,315.98 330.89,316.52 330.96,317.06 331.03,317.58 331.09,318.10 331.16,318.61 331.23,319.12 331.30,319.61 331.37,320.10 331.44,320.58 331.51,321.05 331.58,321.51 331.65,321.97 331.72,322.42 331.79,322.86 331.86,323.30 331.95,323.87 332.04,324.43 332.13,324.97 332.23,325.51 332.32,326.04 332.41,326.55 332.50,327.05 332.59,327.55 332.69,328.03 332.78,328.50 332.87,328.97 332.96,329.42 333.06,329.86 333.15,330.30 333.24,330.72 333.33,331.14 333.43,331.55 333.54,332.05 333.66,332.54 333.77,333.01 333.89,333.47 334.00,333.92 334.12,334.36 334.23,334.79 334.35,335.20 334.46,335.61 334.58,336.00 334.70,336.39 334.83,336.84 334.97,337.27 335.11,337.70 335.25,338.11 335.39,338.50 335.53,338.89 335.66,339.26 335.80,339.62 335.96,340.03 336.13,340.43 336.29,340.81 336.45,341.17 336.61,341.53 336.77,341.87 336.96,342.25 337.14,342.61 337.33,342.96 337.51,343.29 337.70,343.61 337.90,343.96 338.11,344.29 338.32,344.60 338.53,344.90 338.76,345.22 338.99,345.53 339.22,345.82 339.45,346.09 339.70,346.38 339.96,346.66 340.21,346.92 340.47,347.16 340.74,347.42 341.02,347.66 341.30,347.88 341.60,348.12 341.90,348.34 342.20,348.54 342.52,348.75 342.84,348.94 343.17,349.13 343.51,349.31 343.86,349.49 344.21,349.65 344.57,349.81 344.94,349.96 345.31,350.10 345.68,350.24 346.07,350.37 346.47,350.49 346.86,350.61 347.25,350.72 347.67,350.83 348.08,350.93 348.50,351.03 348.91,351.12 349.33,351.20 349.77,351.29 350.21,351.37 350.65,351.45 351.08,351.52 351.52,351.59 351.96,351.65 352.40,351.72 352.86,351.78 353.32,351.84 353.78,351.90 354.25,351.95 354.71,352.01 355.17,352.06 356.01,352.15 356.62,352.21 357.22,352.27 357.83,352.33 358.44,352.39 359.05,352.44 359.65,352.50 360.26,352.55 360.87,352.60 361.48,352.65 362.08,352.70 362.69,352.75 363.30,352.79 363.91,352.84 364.51,352.88 365.12,352.93 365.73,352.97 366.34,353.01 366.94,353.06 367.55,353.10 368.16,353.14 368.77,353.18 369.37,353.22 369.98,353.26 370.59,353.30 371.20,353.34 371.80,353.38 372.41,353.41 373.02,353.45 373.63,353.49 374.23,353.52 374.84,353.56 375.45,353.59 376.06,353.63 376.66,353.66 377.27,353.70 377.88,353.73 378.49,353.77 379.09,353.80 379.70,353.83 380.31,353.86 380.92,353.90 381.52,353.93 382.13,353.96 382.74,353.99 383.35,354.02 383.95,354.05 384.56,354.08 385.17,354.11 385.78,354.14 386.38,354.17 386.99,354.20 387.60,354.23 388.21,354.25 388.81,354.28 389.42,354.31 390.03,354.34 390.64,354.36 391.24,354.39 391.85,354.42 392.46,354.44 393.07,354.47 393.67,354.49 394.28,354.52 394.89,354.54 395.50,354.57 396.10,354.59 396.71,354.62 397.32,354.64 397.93,354.66 398.53,354.69 399.14,354.71 399.75,354.73 400.36,354.76 400.96,354.78 401.57,354.80 402.18,354.82 402.79,354.84 403.39,354.86 404.00,354.89 404.61,354.91 405.22,354.93 405.82,354.95 406.43,354.97 407.04,354.99 407.65,355.01 408.25,355.03 408.86,355.05 409.47,355.07 410.08,355.08 410.68,355.10 411.29,355.12 411.90,355.14 412.51,355.16 413.11,355.18 413.72,355.19 414.33,355.21 414.94,355.23 415.54,355.25 416.15,355.26 416.76,355.28 417.37,355.30 417.98,355.31 418.58,355.33 419.19,355.34 419.80,355.36 420.41,355.38 421.01,355.39 421.62,355.41 422.23,355.42 422.84,355.44 423.44,355.45 424.05,355.47 424.66,355.48 425.27,355.50 425.87,355.51 426.48,355.52 427.09,355.54 427.70,355.55 428.30,355.56 428.91,355.58 429.52,355.59 430.13,355.60 430.73,355.62 431.34,355.63 431.95,355.64 432.56,355.66 433.16,355.67 433.77,355.68 434.38,355.69 434.99,355.71 435.59,355.72 436.20,355.73 436.81,355.74 437.42,355.75 438.02,355.76 438.63,355.77 439.24,355.79 439.85,355.80 440.45,355.81 441.06,355.82 441.67,355.83 442.28,355.84 442.88,355.85 443.49,355.86 444.10,355.87 444.71,355.88 445.31,355.89 445.92,355.90 446.53,355.91 447.14,355.92 447.74,355.93 448.35,355.94 448.96,355.95 449.57,355.96 450.17,355.97 450.78,355.98 451.39,355.99 452.00,355.99 452.60,356.00 453.21,356.01 453.82,356.02 454.43,356.03 455.03,356.04 455.64,356.05 456.25,356.05 456.86,356.06 457.46,356.07 458.07,356.08 458.68,356.09 459.29,356.09 459.89,356.10 460.50,356.11 461.11,356.12 461.72,356.12 462.32,356.13 462.93,356.14 463.54,356.15 464.15,356.15 464.75,356.16 465.36,356.17 465.97,356.17 466.58,356.18 467.18,356.19 467.79,356.19 468.40,356.20 469.01,356.21 469.61,356.21 470.22,356.22 470.83,356.23 471.44,356.23 472.04,356.24 472.65,356.24 473.26,356.25 473.87,356.26 474.47,356.26 475.08,356.27 475.69,356.27 476.30,356.28 476.91,356.29 477.51,356.29 478.12,356.30 478.73,356.30 479.34,356.31 479.94,356.31 480.55,356.32 481.16,356.32 481.77,356.33 482.37,356.33 482.98,356.34 483.59,356.34 484.20,356.35 484.80,356.35 485.41,356.36 486.02,356.36 486.63,356.37 487.23,356.37 487.84,356.38 488.45,356.38 489.06,356.39 489.66,356.39 490.27,356.40 490.88,356.40 491.49,356.40 492.09,356.41 492.70,356.41 493.31,356.42 493.92,356.42 494.52,356.43 495.13,356.43 495.74,356.43 496.35,356.44 496.95,356.44 497.56,356.45 498.17,356.45 498.78,356.45 499.38,356.46 499.99,356.46 500.60,356.46 501.21,356.47 501.81,356.47 502.42,356.48 503.03,356.48 503.64,356.48 504.24,356.49 504.85,356.49 505.46,356.49 506.07,356.50 506.67,356.50 507.28,356.50 507.89,356.51 508.50,356.51 509.10,356.51 509.71,356.52 510.32,356.52 510.93,356.52 511.53,356.52 512.14,356.53 512.75,356.53 513.36,356.53 513.96,356.54 514.57,356.54 515.18,356.54 515.79,356.55 516.39,356.55 517.00,356.55 517.61,356.55 518.22,356.56 518.82,356.56 519.43,356.56 520.04,356.56 520.65,356.57 521.25,356.57 521.86,356.57 522.47,356.57 523.08,356.58 523.68,356.58 524.29,356.58 524.90,356.58 525.51,356.59 526.11,356.59 526.72,356.59 527.33,356.59 527.94,356.60 528.54,356.60 529.15,356.60 529.76,356.60 530.37,356.60 530.97,356.61 531.58,356.61 532.19,356.61 532.80,356.61 533.40,356.61 534.01,356.62 534.62,356.62 535.23,356.62 535.83,356.62 536.44,356.62 537.05,356.63" fill="none" stroke="#d614d6" stroke-width="2.45" stroke-dasharray="6.4 2 2 2.4" stroke-linejoin="round"/>
<path d="M320.80,15.63 320.82,17.45 320.85,19.25 320.87,21.05 320.89,22.84 320.92,24.61 320.94,26.38 320.96,28.14 320.98,29.89 321.01,31.63 321.03,33.36 321.05,35.08 321.08,36.79 321.10,38.50 321.12,40.19 321.15,41.88 321.17,43.55 321.19,45.22 321.22,46.88 321.24,48.53 321.26,50.17 321.28,51.80 321.31,53.42 321.33,55.04 321.35,56.65 321.38,58.24 321.40,59.83 321.42,61.41 321.45,62.99 321.47,64.55 321.49,66.10 321.52,67.65 321.54,69.19 321.56,70.72 321.58,72.24 321.61,73.76 321.63,75.27 321.65,76.76 321.68,78.25 321.70,79.74 321.72,81.21 321.75,82.68 321.77,84.14 321.79,85.59 321.82,87.03 321.84,88.47 321.86,89.90 321.88,91.32 321.91,92.73 321.93,94.14 321.95,95.53 321.98,96.92 322.00,98.31 322.02,99.68 322.05,101.05 322.07,102.41 322.09,103.77 322.12,105.11 322.14,106.45 322.16,107.79 322.18,109.11 322.21,110.43 322.23,111.74 322.25,113.05 322.28,114.34 322.30,115.63 322.32,116.92 322.35,118.19 322.37,119.46 322.39,120.73 322.42,121.98 322.44,123.23 322.46,124.48 322.48,125.71 322.51,126.94 322.53,128.17 322.55,129.38 322.58,130.59 322.60,131.80 322.62,133.00 322.65,134.19 322.67,135.37 322.69,136.55 322.72,137.72 322.74,138.89 322.76,140.05 322.79,141.20 322.81,142.35 322.83,143.49 322.85,144.63 322.88,145.76 322.90,146.88 322.92,148.00 322.95,149.11 322.97,150.21 322.99,151.31 323.02,152.41 323.04,153.50 323.06,154.58 323.09,155.65 323.11,156.72 323.13,157.79 323.15,158.85 323.18,159.90 323.20,160.95 323.22,161.99 323.25,163.03 323.27,164.06 323.29,165.09 323.32,166.11 323.34,167.12 323.36,168.13 323.39,169.14 323.41,170.14 323.43,171.13 323.45,172.12 323.48,173.10 323.50,174.08 323.52,175.05 323.55,176.02 323.57,176.98 323.59,177.94 323.62,178.89 323.64,179.84 323.66,180.78 323.69,181.72 323.71,182.65 323.73,183.57 323.75,184.50 323.78,185.41 323.80,186.33 323.82,187.23 323.85,188.14 323.87,189.03 323.89,189.93 323.92,190.81 323.94,191.70 323.96,192.58 323.99,193.45 324.01,194.32 324.03,195.18 324.05,196.05 324.08,196.90 324.10,197.75 324.12,198.60 324.15,199.44 324.17,200.28 324.19,201.11 324.22,201.94 324.24,202.76 324.26,203.58 324.29,204.40 324.31,205.21 324.33,206.02 324.35,206.82 324.38,207.62 324.40,208.41 324.42,209.20 324.45,209.99 324.47,210.77 324.49,211.55 324.52,212.32 324.54,213.09 324.56,213.85 324.59,214.61 324.61,215.37 324.63,216.12 324.65,216.87 324.68,217.62 324.70,218.36 324.72,219.10 324.75,219.83 324.77,220.56 324.79,221.28 324.82,222.00 324.84,222.72 324.86,223.44 324.89,224.14 324.91,224.85 324.93,225.55 324.95,226.25 324.98,226.95 325.00,227.64 325.02,228.33 325.05,229.01 325.07,229.69 325.09,230.37 325.12,231.04 325.14,231.71 325.16,232.37 325.19,233.04 325.21,233.70 325.23,234.35 325.25,235.00 325.28,235.65 325.30,236.30 325.32,236.94 325.35,237.57 325.37,238.21 325.39,238.84 325.42,239.47 325.44,240.09 325.46,240.71 325.49,241.33 325.51,241.95 325.53,242.56 325.55,243.17 325.58,243.77 325.60,244.37 325.62,244.97 325.65,245.57 325.67,246.16 325.69,246.75 325.72,247.33 325.74,247.92 325.76,248.50 325.79,249.07 325.81,249.64 325.83,250.22 325.85,250.78 325.88,251.35 325.90,251.91 325.92,252.47 325.95,253.02 325.97,253.57 325.99,254.12 326.02,254.67 326.04,255.21 326.06,255.75 326.09,256.29 326.11,256.83 326.13,257.36 326.16,257.89 326.18,258.42 326.20,258.94 326.22,259.46 326.25,259.98 326.27,260.49 326.29,261.01 326.32,261.52 326.34,262.02 326.36,262.53 326.39,263.03 326.41,263.53 326.43,264.02 326.46,264.52 326.48,265.01 326.50,265.50 326.52,265.98 326.55,266.47 326.57,266.95 326.59,267.43 326.64,268.38 326.69,269.31 326.73,270.24 326.78,271.16 326.82,272.07 326.87,272.97 326.92,273.86 326.96,274.74 327.01,275.61 327.06,276.47 327.10,277.33 327.15,278.17 327.19,279.01 327.24,279.83 327.29,280.65 327.33,281.46 327.38,282.26 327.42,283.05 327.47,283.83 327.52,284.61 327.56,285.37 327.61,286.13 327.66,286.88 327.70,287.62 327.75,288.36 327.79,289.09 327.84,289.80 327.89,290.52 327.93,291.22 327.98,291.92 328.02,292.60 328.07,293.29 328.12,293.96 328.16,294.63 328.21,295.29 328.26,295.94 328.30,296.59 328.35,297.23 328.39,297.86 328.44,298.48 328.49,299.10 328.53,299.72 328.58,300.32 328.62,300.92 328.67,301.51 328.72,302.10 328.76,302.68 328.81,303.26 328.86,303.83 328.90,304.39 328.95,304.94 328.99,305.50 329.04,306.04 329.09,306.58 329.13,307.11 329.18,307.64 329.22,308.16 329.27,308.68 329.32,309.19 329.36,309.69 329.41,310.19 329.46,310.69 329.50,311.18 329.55,311.66 329.59,312.14 329.64,312.62 329.69,313.09 329.73,313.55 329.78,314.01 329.83,314.46 329.89,315.14 329.96,315.80 330.03,316.45 330.10,317.09 330.17,317.72 330.24,318.34 330.31,318.95 330.38,319.55 330.45,320.14 330.52,320.73 330.59,321.30 330.66,321.86 330.73,322.42 330.79,322.96 330.86,323.50 330.93,324.03 331.00,324.55 331.07,325.06 331.14,325.57 331.21,326.06 331.28,326.55 331.35,327.03 331.42,327.51 331.49,327.97 331.56,328.43 331.63,328.88 331.69,329.32 331.76,329.76 331.86,330.33 331.95,330.89 332.04,331.44 332.13,331.97 332.23,332.50 332.32,333.01 332.41,333.51 332.50,334.00 332.59,334.49 332.69,334.96 332.78,335.42 332.87,335.87 332.96,336.31 333.06,336.74 333.15,337.17 333.24,337.58 333.36,338.09 333.47,338.58 333.59,339.06 333.70,339.53 333.82,339.98 333.93,340.43 334.05,340.86 334.16,341.28 334.28,341.69 334.40,342.08 334.51,342.47 334.65,342.92 334.79,343.36 334.93,343.78 335.06,344.19 335.20,344.59 335.34,344.98 335.48,345.35 335.64,345.77 335.80,346.17 335.96,346.56 336.13,346.94 336.29,347.30 336.45,347.65 336.63,348.03 336.82,348.40 337.00,348.75 337.19,349.08 337.37,349.41 337.58,349.75 337.79,350.08 338.00,350.40 338.20,350.70 338.43,351.02 338.67,351.32 338.90,351.60 339.13,351.87 339.38,352.15 339.63,352.42 339.89,352.67 340.17,352.92 340.44,353.16 340.72,353.39 341.02,353.62 341.32,353.83 341.64,354.05 341.97,354.24 342.29,354.43 342.64,354.61 342.98,354.78 343.33,354.93 343.70,355.09 344.07,355.23 344.46,355.36 344.85,355.49 345.24,355.60 345.66,355.71 346.07,355.81 346.49,355.90 346.93,355.99 347.37,356.07 347.81,356.14 348.24,356.20 348.71,356.26 349.17,356.32 349.63,356.37 350.09,356.41 350.55,356.45 351.04,356.49 351.52,356.52 352.01,356.55 352.49,356.58 352.98,356.60 353.46,356.62 353.95,356.64 354.43,356.66 354.94,356.67 356.01,356.70 356.62,356.71 357.22,356.72 357.83,356.73 358.44,356.74 359.05,356.75 359.65,356.76 360.26,356.76 360.87,356.77 361.48,356.77 362.08,356.78 362.69,356.78 363.30,356.78 363.91,356.78 364.51,356.79 365.12,356.79 365.73,356.79 366.34,356.79 366.94,356.79 367.55,356.79 368.16,356.79 368.77,356.79 369.37,356.80 369.98,356.80 370.59,356.80 371.20,356.80 371.80,356.80 372.41,356.80 373.02,356.80 373.63,356.80 374.23,356.80 374.84,356.80 375.45,356.80 376.06,356.80 376.66,356.80 377.27,356.80 377.88,356.80 378.49,356.80 379.09,356.80 379.70,356.80 380.31,356.80 380.92,356.80 381.52,356.80 382.13,356.80 382.74,356.80 383.35,356.80 383.95,356.80 384.56,356.80 385.17,356.80 385.78,356.80 386.38,356.80 386.99,356.80 387.60,356.80 388.21,356.80 388.81,356.80 389.42,356.80 390.03,356.80 390.64,356.80 391.24,356.80 391.85,356.80 392.46,356.80 393.07,356.80 393.67,356.80 394.28,356.80 394.89,356.80 395.50,356.80 396.10,356.80 396.71,356.80 397.32,356.80 397.93,356.80 398.53,356.80 399.14,356.80 399.75,356.80 400.36,356.80 400.96,356.80 401.57,356.80 402.18,356.80 402.79,356.80 403.39,356.80 404.00,356.80 404.61,356.80 405.22,356.80 405.82,356.80 406.43,356.80 407.04,356.80 407.65,356.80 408.25,356.80 408.86,356.80 409.47,356.80 410.08,356.80 410.68,356.80 411.29,356.80 411.90,356.80 412.51,356.80 413.11,356.80 413.72,356.80 414.33,356.80 414.94,356.80 415.54,356.80 416.15,356.80 416.76,356.80 417.37,356.80 417.98,356.80 418.58,356.80 419.19,356.80 419.80,356.80 420.41,356.80 421.01,356.80 421.62,356.80 422.23,356.80 422.84,356.80 423.44,356.80 424.05,356.80 424.66,356.80 425.27,356.80 425.87,356.80 426.48,356.80 427.09,356.80 427.70,356.80 428.30,356.80 428.91,356.80 429.52,356.80 430.13,356.80 430.73,356.80 431.34,356.80 431.95,356.80 432.56,356.80 433.16,356.80 433.77,356.80 434.38,356.80 434.99,356.80 435.59,356.80 436.20,356.80 436.81,356.80 437.42,356.80 438.02,356.80 438.63,356.80 439.24,356.80 439.85,356.80 440.45,356.80 441.06,356.80 441.67,356.80 442.28,356.80 442.88,356.80 443.49,356.80 444.10,356.80 444.71,356.80 445.31,356.80 445.92,356.80 446.53,356.80 447.14,356.80 447.74,356.80 448.35,356.80 448.96,356.80 449.57,356.80 450.17,356.80 450.78,356.80 451.39,356.80 452.00,356.80 452.60,356.80 453.21,356.80 453.82,356.80 454.43,356.80 455.03,356.80 455.64,356.80 456.25,356.80 456.86,356.80 457.46,356.80 458.07,356.80 458.68,356.80 459.29,356.80 459.89,356.80 460.50,356.80 461.11,356.80 461.72,356.80 462.32,356.80 462.93,356.80 463.54,356.80 464.15,356.80 464.75,356.80 465.36,356.80 465.97,356.80 466.58,356.80 467.18,356.80 467.79,356.80 468.40,356.80 469.01,356.80 469.61,356.80 470.22,356.80 470.83,356.80 471.44,356.80 472.04,356.80 472.65,356.80 473.26,356.80 473.87,356.80 474.47,356.80 475.08,356.80 475.69,356.80 476.30,356.80 476.91,356.80 477.51,356.80 478.12,356.80 478.73,356.80 479.34,356.80 479.94,356.80 480.55,356.80 481.16,356.80 481.77,356.80 482.37,356.80 482.98,356.80 483.59,356.80 484.20,356.80 484.80,356.80 485.41,356.80 486.02,356.80 486.63,356.80 487.23,356.80 487.84,356.80 488.45,356.80 489.06,356.80 489.66,356.80 490.27,356.80 490.88,356.80 491.49,356.80 492.09,356.80 492.70,356.80 493.31,356.80 493.92,356.80 494.52,356.80 495.13,356.80 495.74,356.80 496.35,356.80 496.95,356.80 497.56,356.80 498.17,356.80 498.78,356.80 499.38,356.80 499.99,356.80 500.60,356.80 501.21,356.80 501.81,356.80 502.42,356.80 503.03,356.80 503.64,356.80 504.24,356.80 504.85,356.80 505.46,356.80 506.07,356.80 506.67,356.80 507.28,356.80 507.89,356.80 508.50,356.80 509.10,356.80 509.71,356.80 510.32,356.80 510.93,356.80 511.53,356.80 512.14,356.80 512.75,356.80 513.36,356.80 513.96,356.80 514.57,356.80 515.18,356.80 515.79,356.80 516.39,356.80 517.00,356.80 517.61,356.80 518.22,356.80 518.82,356.80 519.43,356.80 520.04,356.80 520.65,356.80 521.25,356.80 521.86,356.80 522.47,356.80 523.08,356.80 523.68,356.80 524.29,356.80 524.90,356.80 525.51,356.80 526.11,356.80 526.72,356.80 527.33,356.80 527.94,356.80 528.54,356.80 529.15,356.80 529.76,356.80 530.37,356.80 530.97,356.80 531.58,356.80 532.19,356.80 532.80,356.80 533.40,356.80 534.01,356.80 534.62,356.80 535.23,356.80 535.83,356.80 536.44,356.80 537.05,356.80" fill="none" stroke="#d41212" stroke-width="2.2" stroke-linejoin="round"/>
<path d="M320.80,15.63 320.82,17.57 320.85,19.50 320.87,21.41 320.89,23.31 320.92,25.20 320.94,27.08 320.96,28.95 320.98,30.80 321.01,32.65 321.03,34.48 321.05,36.30 321.08,38.11 321.10,39.91 321.12,41.70 321.15,43.47 321.17,45.24 321.19,46.99 321.22,48.74 321.24,50.47 321.26,52.19 321.28,53.91 321.31,55.61 321.33,57.30 321.35,58.98 321.38,60.65 321.40,62.32 321.42,63.97 321.45,65.61 321.47,67.24 321.49,68.86 321.52,70.47 321.54,72.08 321.56,73.67 321.58,75.25 321.61,76.83 321.63,78.39 321.65,79.95 321.68,81.49 321.70,83.03 321.72,84.56 321.75,86.08 321.77,87.59 321.79,89.09 321.82,90.58 321.84,92.07 321.86,93.54 321.88,95.01 321.91,96.47 321.93,97.92 321.95,99.36 321.98,100.79 322.00,102.22 322.02,103.63 322.05,105.04 322.07,106.44 322.09,107.83 322.12,109.22 322.14,110.59 322.16,111.96 322.18,113.32 322.21,114.67 322.23,116.02 322.25,117.36 322.28,118.69 322.30,120.01 322.32,121.32 322.35,122.63 322.37,123.93 322.39,125.22 322.42,126.51 322.44,127.78 322.46,129.05 322.48,130.32 322.51,131.57 322.53,132.82 322.55,134.06 322.58,135.30 322.60,136.52 322.62,137.75 322.65,138.96 322.67,140.17 322.69,141.37 322.72,142.56 322.74,143.75 322.76,144.93 322.79,146.10 322.81,147.27 322.83,148.43 322.85,149.58 322.88,150.73 322.90,151.87 322.92,153.01 322.95,154.14 322.97,155.26 322.99,156.38 323.02,157.49 323.04,158.59 323.06,159.69 323.09,160.78 323.11,161.86 323.13,162.94 323.15,164.02 323.18,165.08 323.20,166.15 323.22,167.20 323.25,168.25 323.27,169.30 323.29,170.33 323.32,171.37 323.34,172.39 323.36,173.42 323.39,174.43 323.41,175.44 323.43,176.45 323.45,177.45 323.48,178.44 323.50,179.43 323.52,180.41 323.55,181.39 323.57,182.36 323.59,183.33 323.62,184.29 323.64,185.24 323.66,186.19 323.69,187.14 323.71,188.08 323.73,189.02 323.75,189.95 323.78,190.87 323.80,191.79 323.82,192.71 323.85,193.62 323.87,194.52 323.89,195.42 323.92,196.32 323.94,197.21 323.96,198.09 323.99,198.97 324.01,199.85 324.03,200.72 324.05,201.59 324.08,202.45 324.10,203.31 324.12,204.16 324.15,205.01 324.17,205.85 324.19,206.69 324.22,207.52 324.24,208.35 324.26,209.18 324.29,210.00 324.31,210.81 324.33,211.62 324.35,212.43 324.38,213.23 324.40,214.03 324.42,214.83 324.45,215.62 324.47,216.40 324.49,217.18 324.52,217.96 324.54,218.73 324.56,219.50 324.59,220.27 324.61,221.03 324.63,221.78 324.65,222.54 324.68,223.28 324.70,224.03 324.72,224.77 324.75,225.51 324.77,226.24 324.79,226.97 324.82,227.69 324.84,228.41 324.86,229.13 324.89,229.84 324.91,230.55 324.93,231.25 324.95,231.96 324.98,232.65 325.00,233.35 325.02,234.04 325.05,234.72 325.07,235.41 325.09,236.08 325.12,236.76 325.14,237.43 325.16,238.10 325.19,238.76 325.21,239.42 325.23,240.08 325.25,240.74 325.28,241.39 325.30,242.03 325.32,242.68 325.35,243.32 325.37,243.95 325.39,244.59 325.42,245.22 325.44,245.84 325.46,246.46 325.49,247.08 325.51,247.70 325.53,248.31 325.55,248.92 325.58,249.53 325.60,250.13 325.62,250.73 325.65,251.33 325.67,251.92 325.69,252.51 325.72,253.10 325.74,253.68 325.76,254.26 325.79,254.84 325.81,255.42 325.83,255.99 325.85,256.56 325.88,257.12 325.90,257.68 325.92,258.24 325.95,258.80 325.97,259.35 325.99,259.90 326.02,260.45 326.04,261.00 326.06,261.54 326.09,262.08 326.11,262.61 326.13,263.15 326.16,263.68 326.18,264.20 326.20,264.73 326.22,265.25 326.25,265.77 326.27,266.28 326.29,266.80 326.32,267.31 326.34,267.82 326.36,268.32 326.39,268.82 326.41,269.32 326.43,269.82 326.46,270.32 326.48,270.81 326.50,271.30 326.52,271.78 326.55,272.27 326.57,272.75 326.59,273.23 326.64,274.18 326.69,275.12 326.73,276.05 326.78,276.97 326.82,277.88 326.87,278.78 326.92,279.67 326.96,280.55 327.01,281.42 327.06,282.29 327.10,283.14 327.15,283.98 327.19,284.82 327.24,285.65 327.29,286.46 327.33,287.29 327.38,288.09 327.42,288.88 327.47,289.66 327.52,290.44 327.56,291.20 327.61,291.96 327.66,292.71 327.70,293.45 327.75,294.19 327.79,294.92 327.84,295.63 327.89,296.35 327.93,297.05 327.98,297.75 328.02,298.44 328.07,299.12 328.12,299.79 328.16,300.46 328.21,301.12 328.26,301.77 328.30,302.42 328.35,303.06 328.39,303.69 328.44,304.32 328.49,304.94 328.53,305.55 328.58,306.16 328.62,306.76 328.67,307.35 328.72,307.94 328.76,308.52 328.81,309.09 328.86,309.66 328.90,310.22 328.95,310.78 328.99,311.33 329.04,311.88 329.09,312.42 329.13,312.95 329.18,313.48 329.22,314.00 329.27,314.52 329.32,315.03 329.36,315.53 329.41,316.03 329.46,316.53 329.50,317.02 329.55,317.50 329.59,317.98 329.64,318.46 329.69,318.93 329.73,319.39 329.78,319.85 329.83,320.31 329.89,320.98 329.96,321.64 330.03,322.29 330.10,322.93 330.17,323.57 330.24,324.19 330.31,324.80 330.38,325.40 330.45,325.99 330.52,326.58 330.59,327.15 330.66,327.72 330.73,328.27 330.79,328.82 330.86,329.36 330.93,329.89 331.00,330.41 331.07,330.92 331.14,331.43 331.21,331.92 331.28,332.41 331.35,332.89 331.42,333.37 331.49,333.83 331.56,334.29 331.63,334.74 331.69,335.19 331.76,335.63 331.86,336.20 331.95,336.76 332.04,337.31 332.13,337.84 332.23,338.37 332.32,338.88 332.41,339.39 332.50,339.88 332.59,340.36 332.69,340.83 332.78,341.30 332.87,341.75 332.96,342.19 333.06,342.62 333.15,343.05 333.24,343.46 333.36,343.97 333.47,344.46 333.59,344.94 333.70,345.41 333.82,345.86 333.93,346.30 334.05,346.73 334.16,347.15 334.28,347.55 334.40,347.94 334.53,348.40 334.67,348.84 334.81,349.27 334.95,349.68 335.09,350.08 335.23,350.46 335.36,350.82 335.53,351.23 335.69,351.62 335.85,351.99 336.01,352.34 336.20,352.72 336.38,353.07 336.57,353.40 336.77,353.74 336.98,354.05 337.21,354.37 337.44,354.65 337.70,354.91 337.97,355.16 338.27,355.38 338.60,355.56 338.97,355.69 339.40,355.76 339.89,355.72 340.28,355.61 340.63,355.44 340.95,355.24 341.25,355.00 341.53,354.75 341.78,354.49 342.04,354.19 342.27,353.90 342.50,353.58 342.70,353.27 342.91,352.94 343.12,352.60 343.31,352.28 343.49,351.94 343.67,351.60 343.86,351.25 344.04,350.88 344.23,350.51 344.41,350.14 344.60,349.76 344.78,349.37 344.94,349.03 345.11,348.69 345.27,348.35 345.43,348.01 345.59,347.67 345.75,347.33 345.94,346.95 346.12,346.57 346.31,346.18 346.49,345.81 346.67,345.43 346.86,345.06 347.04,344.69 347.23,344.32 347.41,343.96 347.60,343.60 347.78,343.25 347.97,342.90 348.15,342.56 348.34,342.22 348.52,341.88 348.71,341.55 348.89,341.22 349.08,340.90 349.26,340.58 349.44,340.26 349.65,339.91 349.86,339.56 350.07,339.22 350.28,338.89 350.48,338.56 350.69,338.24 350.90,337.92 351.11,337.61 351.31,337.31 351.52,337.02 351.75,336.70 351.98,336.39 352.21,336.09 352.45,335.81 352.68,335.53 352.93,335.24 353.18,334.96 353.44,334.70 353.72,334.43 353.99,334.19 354.27,333.95 354.57,333.72 354.87,333.51 355.19,333.30 356.01,332.84 356.62,332.56 357.22,332.32 357.83,332.11 358.44,331.94 359.05,331.79 359.65,331.66 360.26,331.54 360.87,331.45 361.48,331.37 362.08,331.31 362.69,331.25 363.30,331.20 363.91,331.16 364.51,331.13 365.12,331.10 365.73,331.07 366.34,331.05 366.94,331.04 367.55,331.02 368.16,331.01 368.77,331.00 369.37,330.99 369.98,330.99 370.59,330.98 371.20,330.98 371.80,330.97 372.41,330.97 373.02,330.97 373.63,330.96 374.23,330.96 374.84,330.96 375.45,330.96 376.06,330.96 376.66,330.96 377.27,330.96 377.88,330.96 378.49,330.97 379.09,330.97 379.70,330.97 380.31,330.97 380.92,330.98 381.52,330.98 382.13,330.98 382.74,330.98 383.35,330.99 383.95,330.99 384.56,330.99 385.17,330.99 385.78,330.99 386.38,330.99 386.99,330.99 387.60,330.99 388.21,330.99 388.81,330.99 389.42,330.99 390.03,330.99 390.64,330.99 391.24,330.99 391.85,330.98 392.46,330.98 393.07,330.98 393.67,330.98 394.28,330.98 394.89,330.98 395.50,330.98 396.10,330.98 396.71,330.98 397.32,330.98 397.93,330.98 398.53,330.98 399.14,330.98 399.75,330.98 400.36,330.98 400.96,330.98 401.57,330.98 402.18,330.98 402.79,330.98 403.39,330.98 404.00,330.98 404.61,330.98 405.22,330.98 405.82,330.98 406.43,330.98 407.04,330.98 407.65,330.98 408.25,330.98 408.86,330.98 409.47,330.98 410.08,330.98 410.68,330.98 411.29,330.98 411.90,330.98 412.51,330.98 413.11,330.98 413.72,330.98 414.33,330.98 414.94,330.98 415.54,330.98 416.15,330.98 416.76,330.98 417.37,330.98 417.98,330.98 418.58,330.98 419.19,330.98 419.80,330.98 420.41,330.98 421.01,330.98 421.62,330.98 422.23,330.98 422.84,330.98 423.44,330.98 424.05,330.98 424.66,330.98 425.27,330.98 425.87,330.98 426.48,330.98 427.09,330.98 427.70,330.98 428.30,330.98 428.91,330.98 429.52,330.98 430.13,330.98 430.73,330.98 431.34,330.98 431.95,330.98 432.56,330.98 433.16,330.98 433.77,330.98 434.38,330.98 434.99,330.98 435.59,330.98 436.20,330.98 436.81,330.98 437.42,330.98 438.02,330.98 438.63,330.98 439.24,330.98 439.85,330.98 440.45,330.98 441.06,330.98 441.67,330.98 442.28,330.98 442.88,330.98 443.49,330.98 444.10,330.98 444.71,330.98 445.31,330.98 445.92,330.98 446.53,330.98 447.14,330.98 447.74,330.98 448.35,330.98 448.96,330.98 449.57,330.98 450.17,330.98 450.78,330.98 451.39,330.98 452.00,330.98 452.60,330.98 453.21,330.98 453.82,330.98 454.43,330.98 455.03,330.98 455.64,330.98 456.25,330.98 456.86,330.98 457.46,330.98 458.07,330.98 458.68,330.98 459.29,330.98 459.89,330.98 460.50,330.98 461.11,330.98 461.72,330.98 462.32,330.98 462.93,330.98 463.54,330.98 464.15,330.98 464.75,330.98 465.36,330.98 465.97,330.98 466.58,330.98 467.18,330.98 467.79,330.98 468.40,330.98 469.01,330.98 469.61,330.98 470.22,330.98 470.83,330.98 471.44,330.98 472.04,330.98 472.65,330.98 473.26,330.98 473.87,330.98 474.47,330.98 475.08,330.98 475.69,330.98 476.30,330.98 476.91,330.98 477.51,330.98 478.12,330.98 478.73,330.98 479.34,330.98 479.94,330.98 480.55,330.98 481.16,330.98 481.77,330.98 482.37,330.98 482.98,330.98 483.59,330.98 484.20,330.98 484.80,330.98 485.41,330.98 486.02,330.98 486.63,330.98 487.23,330.98 487.84,330.98 488.45,330.98 489.06,330.98 489.66,330.98 490.27,330.98 490.88,330.98 491.49,330.98 492.09,330.98 492.70,330.98 493.31,330.98 493.92,330.98 494.52,330.98 495.13,330.98 495.74,330.98 496.35,330.98 496.95,330.98 497.56,330.98 498.17,330.98 498.78,330.98 499.38,330.98 499.99,330.98 500.60,330.98 501.21,330.98 501.81,330.98 502.42,330.98 503.03,330.98 503.64,330.98 504.24,330.98 504.85,330.98 505.46,330.98 506.07,330.98 506.67,330.98 507.28,330.98 507.89,330.98 508.50,330.98 509.10,330.98 509.71,330.98 510.32,330.98 510.93,330.98 511.53,330.98 512.14,330.98 512.75,330.98 513.36,330.98 513.96,330.98 514.57,330.98 515.18,330.98 515.79,330.98 516.39,330.98 517.00,330.98 517.61,330.98 518.22,330.98 518.82,330.98 519.43,330.98 520.04,330.98 520.65,330.98 521.25,330.98 521.86,330.98 522.47,330.98 523.08,330.98 523.68,330.98 524.29,330.98 524.90,330.98 525.51,330.98 526.11,330.98 526.72,330.98 527.33,330.98 527.94,330.98 528.54,330.98 529.15,330.98 529.76,330.98 530.37,330.98 530.97,330.98 531.58,330.98 532.19,330.98 532.80,330.98 533.40,330.98 534.01,330.98 534.62,330.98 535.23,330.98 535.83,330.98 536.44,330.98 537.05,330.98" fill="none" stroke="#1410cc" stroke-width="2.45" stroke-dasharray="6.3 2.4" stroke-linejoin="round"/>
<path d="M320.80,15.63 320.82,17.29 320.85,18.94 320.87,20.59 320.89,22.23 320.92,23.86 320.94,25.49 320.96,27.11 320.98,28.73 321.01,30.33 321.03,31.94 321.05,33.53 321.08,35.12 321.10,36.70 321.12,38.28 321.15,39.85 321.17,41.41 321.19,42.97 321.22,44.52 321.24,46.06 321.26,47.59 321.28,49.12 321.31,50.65 321.33,52.17 321.35,53.68 321.38,55.18 321.40,56.68 321.42,58.17 321.45,59.65 321.47,61.13 321.49,62.60 321.52,64.07 321.54,65.52 321.56,66.98 321.58,68.42 321.61,69.86 321.63,71.29 321.65,72.72 321.68,74.14 321.70,75.55 321.72,76.96 321.75,78.36 321.77,79.75 321.79,81.14 321.82,82.52 321.84,83.90 321.86,85.26 321.88,86.63 321.91,87.98 321.93,89.33 321.95,90.67 321.98,92.01 322.00,93.34 322.02,94.67 322.05,95.98 322.07,97.30 322.09,98.60 322.12,99.90 322.14,101.19 322.16,102.48 322.18,103.76 322.21,105.04 322.23,106.31 322.25,107.57 322.28,108.83 322.30,110.08 322.32,111.32 322.35,112.56 322.37,113.79 322.39,115.02 322.42,116.24 322.44,117.45 322.46,118.66 322.48,119.87 322.51,121.06 322.53,122.25 322.55,123.44 322.58,124.62 322.60,125.79 322.62,126.96 322.65,128.12 322.67,129.28 322.69,130.43 322.72,131.58 322.74,132.71 322.76,133.85 322.79,134.98 322.81,136.10 322.83,137.22 322.85,138.33 322.88,139.43 322.90,140.53 322.92,141.63 322.95,142.72 322.97,143.80 322.99,144.88 323.02,145.95 323.04,147.02 323.06,148.08 323.09,149.14 323.11,150.19 323.13,151.24 323.15,152.28 323.18,153.32 323.20,154.35 323.22,155.37 323.25,156.39 323.27,157.41 323.29,158.42 323.32,159.42 323.34,160.42 323.36,161.42 323.39,162.41 323.41,163.39 323.43,164.37 323.45,165.35 323.48,166.31 323.50,167.28 323.52,168.24 323.55,169.19 323.57,170.14 323.59,171.09 323.62,172.03 323.64,172.96 323.66,173.90 323.69,174.82 323.71,175.74 323.73,176.66 323.75,177.57 323.78,178.48 323.80,179.38 323.82,180.28 323.85,181.17 323.87,182.06 323.89,182.94 323.92,183.82 323.94,184.70 323.96,185.57 323.99,186.43 324.01,187.29 324.03,188.15 324.05,189.00 324.08,189.85 324.10,190.69 324.12,191.53 324.15,192.37 324.17,193.20 324.19,194.02 324.22,194.85 324.24,195.66 324.26,196.48 324.29,197.29 324.31,198.09 324.33,198.89 324.35,199.69 324.38,200.48 324.40,201.27 324.42,202.05 324.45,202.83 324.47,203.61 324.49,204.38 324.52,205.15 324.54,205.91 324.56,206.67 324.59,207.43 324.61,208.18 324.63,208.93 324.65,209.67 324.68,210.41 324.70,211.15 324.72,211.88 324.75,212.61 324.77,213.34 324.79,214.06 324.82,214.78 324.84,215.49 324.86,216.20 324.89,216.91 324.91,217.61 324.93,218.31 324.95,219.00 324.98,219.69 325.00,220.38 325.02,221.07 325.05,221.75 325.07,222.42 325.09,223.10 325.12,223.77 325.14,224.43 325.16,225.10 325.19,225.76 325.21,226.41 325.23,227.07 325.25,227.71 325.28,228.36 325.30,229.00 325.32,229.64 325.35,230.28 325.37,230.91 325.39,231.54 325.42,232.16 325.44,232.79 325.46,233.41 325.49,234.02 325.51,234.63 325.53,235.24 325.55,235.85 325.58,236.45 325.60,237.05 325.62,237.65 325.65,238.24 325.67,238.83 325.69,239.42 325.72,240.00 325.74,240.58 325.76,241.16 325.79,241.74 325.81,242.31 325.83,242.88 325.85,243.44 325.88,244.01 325.90,244.57 325.92,245.12 325.95,245.68 325.97,246.23 325.99,246.78 326.02,247.32 326.04,247.86 326.06,248.40 326.09,248.94 326.11,249.47 326.13,250.00 326.16,250.53 326.18,251.06 326.20,251.58 326.22,252.10 326.25,252.62 326.27,253.13 326.29,253.64 326.32,254.15 326.34,254.66 326.36,255.16 326.39,255.66 326.41,256.16 326.43,256.66 326.46,257.15 326.48,257.64 326.50,258.13 326.52,258.61 326.55,259.10 326.57,259.58 326.59,260.05 326.64,261.00 326.69,261.94 326.73,262.87 326.78,263.78 326.82,264.69 326.87,265.59 326.92,266.48 326.96,267.36 327.01,268.23 327.06,269.09 327.10,269.94 327.15,270.78 327.19,271.62 327.24,272.44 327.29,273.26 327.33,274.05 327.38,274.85 327.42,275.64 327.47,276.43 327.52,277.20 327.56,277.97 327.61,278.73 327.66,279.48 327.70,280.22 327.75,280.95 327.79,281.68 327.84,282.40 327.89,283.11 327.93,283.82 327.98,284.51 328.02,285.20 328.07,285.88 328.12,286.56 328.16,287.23 328.21,287.89 328.26,288.54 328.30,289.19 328.35,289.83 328.39,290.46 328.44,291.09 328.49,291.71 328.53,292.32 328.58,292.93 328.62,293.53 328.67,294.12 328.72,294.71 328.76,295.29 328.81,295.87 328.86,296.44 328.90,297.00 328.95,297.56 328.99,298.11 329.04,298.66 329.09,299.20 329.13,299.73 329.18,300.26 329.22,300.78 329.27,301.30 329.32,301.82 329.36,302.32 329.41,302.82 329.46,303.32 329.50,303.81 329.55,304.30 329.59,304.78 329.64,305.26 329.69,305.73 329.73,306.19 329.78,306.66 329.83,307.11 329.89,307.79 329.96,308.45 330.03,309.11 330.10,309.75 330.17,310.39 330.24,311.01 330.31,311.63 330.38,312.24 330.45,312.83 330.52,313.42 330.59,314.00 330.66,314.57 330.73,315.13 330.79,315.68 330.86,316.23 330.93,316.76 331.00,317.29 331.07,317.81 331.14,318.32 331.21,318.82 331.28,319.32 331.35,319.81 331.42,320.29 331.49,320.76 331.56,321.23 331.63,321.69 331.69,322.14 331.76,322.59 331.83,323.03 331.90,323.46 331.99,324.03 332.09,324.59 332.18,325.13 332.27,325.67 332.36,326.19 332.46,326.70 332.55,327.21 332.64,327.70 332.73,328.18 332.83,328.66 332.92,329.12 333.01,329.58 333.10,330.02 333.20,330.46 333.29,330.89 333.38,331.31 333.47,331.72 333.59,332.22 333.70,332.71 333.82,333.19 333.93,333.66 334.05,334.11 334.16,334.56 334.28,334.99 334.40,335.41 334.51,335.81 334.63,336.21 334.74,336.60 334.88,337.05 335.02,337.48 335.16,337.90 335.30,338.30 335.43,338.69 335.57,339.07 335.73,339.49 335.90,339.89 336.06,340.27 336.22,340.63 336.38,340.97 336.57,341.33 336.75,341.68 336.93,342.00 337.14,342.33 337.35,342.63 337.58,342.92 337.83,343.21 338.11,343.47 338.41,343.70 338.73,343.88 339.13,344.02 339.59,344.06 340.03,343.99 340.40,343.85 340.72,343.67 341.02,343.45 341.30,343.20 341.55,342.94 341.78,342.66 342.01,342.36 342.22,342.07 342.43,341.75 342.64,341.41 342.82,341.08 343.00,340.74 343.19,340.38 343.37,340.00 343.54,339.66 343.70,339.31 343.86,338.94 344.02,338.57 344.18,338.19 344.34,337.79 344.51,337.39 344.67,336.99 344.83,336.57 344.99,336.15 345.13,335.79 345.27,335.42 345.41,335.06 345.54,334.69 345.68,334.31 345.82,333.94 345.96,333.57 346.10,333.19 346.24,332.82 346.37,332.44 346.51,332.07 346.65,331.69 346.79,331.32 346.93,330.95 347.07,330.58 347.21,330.22 347.34,329.85 347.48,329.49 347.64,329.07 347.81,328.65 347.97,328.24 348.13,327.84 348.29,327.44 348.45,327.04 348.61,326.66 348.78,326.28 348.94,325.91 349.10,325.55 349.26,325.19 349.42,324.85 349.61,324.46 349.79,324.09 349.98,323.73 350.16,323.37 350.35,323.03 350.53,322.70 350.71,322.38 350.92,322.03 351.13,321.69 351.34,321.36 351.55,321.04 351.75,320.74 351.96,320.44 352.19,320.12 352.42,319.82 352.65,319.53 352.88,319.25 353.14,318.96 353.39,318.68 353.65,318.41 353.90,318.17 354.18,317.91 354.45,317.67 354.73,317.44 355.03,317.21 355.33,317.00 356.01,316.58 356.62,316.25 357.22,315.97 357.83,315.72 358.44,315.51 359.05,315.32 359.65,315.16 360.26,315.02 360.87,314.90 361.48,314.79 362.08,314.70 362.69,314.61 363.30,314.53 363.91,314.46 364.51,314.40 365.12,314.34 365.73,314.30 366.34,314.26 366.94,314.23 367.55,314.20 368.16,314.17 368.77,314.14 369.37,314.12 369.98,314.10 370.59,314.08 371.20,314.07 371.80,314.06 372.41,314.04 373.02,314.03 373.63,314.02 374.23,314.01 374.84,314.01 375.45,314.00 376.06,313.99 376.66,313.98 377.27,313.98 377.88,313.97 378.49,313.96 379.09,313.95 379.70,313.94 380.31,313.94 380.92,313.93 381.52,313.92 382.13,313.92 382.74,313.91 383.35,313.91 383.95,313.90 384.56,313.90 385.17,313.90 385.78,313.90 386.38,313.90 386.99,313.89 387.60,313.89 388.21,313.89 388.81,313.89 389.42,313.89 390.03,313.89 390.64,313.89 391.24,313.90 391.85,313.90 392.46,313.90 393.07,313.90 393.67,313.90 394.28,313.90 394.89,313.90 395.50,313.90 396.10,313.90 396.71,313.90 397.32,313.90 397.93,313.90 398.53,313.90 399.14,313.90 399.75,313.90 400.36,313.90 400.96,313.90 401.57,313.90 402.18,313.90 402.79,313.90 403.39,313.90 404.00,313.90 404.61,313.90 405.22,313.90 405.82,313.90 406.43,313.90 407.04,313.90 407.65,313.90 408.25,313.90 408.86,313.90 409.47,313.90 410.08,313.90 410.68,313.90 411.29,313.90 411.90,313.90 412.51,313.90 413.11,313.90 413.72,313.90 414.33,313.90 414.94,313.90 415.54,313.90 416.15,313.90 416.76,313.90 417.37,313.90 417.98,313.90 418.58,313.90 419.19,313.90 419.80,313.90 420.41,313.90 421.01,313.90 421.62,313.90 422.23,313.90 422.84,313.90 423.44,313.90 424.05,313.90 424.66,313.90 425.27,313.90 425.87,313.90 426.48,313.90 427.09,313.90 427.70,313.90 428.30,313.90 428.91,313.90 429.52,313.90 430.13,313.90 430.73,313.90 431.34,313.90 431.95,313.90 432.56,313.90 433.16,313.90 433.77,313.90 434.38,313.90 434.99,313.90 435.59,313.90 436.20,313.90 436.81,313.90 437.42,313.90 438.02,313.90 438.63,313.90 439.24,313.90 439.85,313.90 440.45,313.90 441.06,313.90 441.67,313.90 442.28,313.90 442.88,313.90 443.49,313.90 444.10,313.90 444.71,313.90 445.31,313.90 445.92,313.90 446.53,313.90 447.14,313.90 447.74,313.90 448.35,313.90 448.96,313.90 449.57,313.90 450.17,313.90 450.78,313.90 451.39,313.90 452.00,313.90 452.60,313.90 453.21,313.90 453.82,313.90 454.43,313.90 455.03,313.90 455.64,313.90 456.25,313.90 456.86,313.90 457.46,313.90 458.07,313.90 458.68,313.90 459.29,313.90 459.89,313.90 460.50,313.90 461.11,313.90 461.72,313.90 462.32,313.90 462.93,313.90 463.54,313.90 464.15,313.90 464.75,313.90 465.36,313.90 465.97,313.90 466.58,313.90 467.18,313.90 467.79,313.90 468.40,313.90 469.01,313.90 469.61,313.90 470.22,313.90 470.83,313.90 471.44,313.90 472.04,313.90 472.65,313.90 473.26,313.90 473.87,313.90 474.47,313.90 475.08,313.90 475.69,313.90 476.30,313.90 476.91,313.90 477.51,313.90 478.12,313.90 478.73,313.90 479.34,313.90 479.94,313.90 480.55,313.90 481.16,313.90 481.77,313.90 482.37,313.90 482.98,313.90 483.59,313.90 484.20,313.90 484.80,313.90 485.41,313.90 486.02,313.90 486.63,313.90 487.23,313.90 487.84,313.90 488.45,313.90 489.06,313.90 489.66,313.90 490.27,313.90 490.88,313.90 491.49,313.90 492.09,313.90 492.70,313.90 493.31,313.90 493.92,313.90 494.52,313.90 495.13,313.90 495.74,313.90 496.35,313.90 496.95,313.90 497.56,313.90 498.17,313.90 498.78,313.90 499.38,313.90 499.99,313.90 500.60,313.90 501.21,313.90 501.81,313.90 502.42,313.90 503.03,313.90 503.64,313.90 504.24,313.90 504.85,313.90 505.46,313.90 506.07,313.90 506.67,313.90 507.28,313.90 507.89,313.90 508.50,313.90 509.10,313.90 509.71,313.90 510.32,313.90 510.93,313.90 511.53,313.90 512.14,313.90 512.75,313.90 513.36,313.90 513.96,313.90 514.57,313.90 515.18,313.90 515.79,313.90 516.39,313.90 517.00,313.90 517.61,313.90 518.22,313.90 518.82,313.90 519.43,313.90 520.04,313.90 520.65,313.90 521.25,313.90 521.86,313.90 522.47,313.90 523.08,313.90 523.68,313.90 524.29,313.90 524.90,313.90 525.51,313.90 526.11,313.90 526.72,313.90 527.33,313.90 527.94,313.90 528.54,313.90 529.15,313.90 529.76,313.90 530.37,313.90 530.97,313.90 531.58,313.90 532.19,313.90 532.80,313.90 533.40,313.90 534.01,313.90 534.62,313.90 535.23,313.90 535.83,313.90 536.44,313.90 537.05,313.90" fill="none" stroke="#1410cc" stroke-width="2.45" stroke-dasharray="6.4 2 2 2.4" stroke-linejoin="round"/>
<path d="M320.80,15.63 320.82,17.43 320.85,19.22 320.87,21.00 320.89,22.77 320.92,24.53 320.94,26.29 320.96,28.03 320.98,29.77 321.01,31.49 321.03,33.21 321.05,34.92 321.08,36.62 321.10,38.31 321.12,39.99 321.15,41.66 321.17,43.33 321.19,44.98 321.22,46.63 321.24,48.27 321.26,49.90 321.28,51.52 321.31,53.13 321.33,54.74 321.35,56.33 321.38,57.92 321.40,59.50 321.42,61.07 321.45,62.63 321.47,64.19 321.49,65.74 321.52,67.27 321.54,68.80 321.56,70.33 321.58,71.84 321.61,73.35 321.63,74.85 321.65,76.34 321.68,77.82 321.70,79.30 321.72,80.76 321.75,82.22 321.77,83.68 321.79,85.12 321.82,86.56 321.84,87.99 321.86,89.41 321.88,90.82 321.91,92.23 321.93,93.63 321.95,95.02 321.98,96.41 322.00,97.78 322.02,99.15 322.05,100.52 322.07,101.87 322.09,103.22 322.12,104.56 322.14,105.90 322.16,107.23 322.18,108.55 322.21,109.86 322.23,111.17 322.25,112.47 322.28,113.76 322.30,115.05 322.32,116.33 322.35,117.60 322.37,118.87 322.39,120.13 322.42,121.38 322.44,122.62 322.46,123.86 322.48,125.10 322.51,126.32 322.53,127.54 322.55,128.76 322.58,129.96 322.60,131.17 322.62,132.36 322.65,133.55 322.67,134.73 322.69,135.91 322.72,137.08 322.74,138.24 322.76,139.40 322.79,140.55 322.81,141.69 322.83,142.83 322.85,143.96 322.88,145.09 322.90,146.21 322.92,147.33 322.95,148.43 322.97,149.54 322.99,150.64 323.02,151.73 323.04,152.81 323.06,153.89 323.09,154.97 323.11,156.04 323.13,157.10 323.15,158.16 323.18,159.21 323.20,160.25 323.22,161.29 323.25,162.33 323.27,163.36 323.29,164.38 323.32,165.40 323.34,166.42 323.36,167.42 323.39,168.43 323.41,169.42 323.43,170.42 323.45,171.40 323.48,172.38 323.50,173.36 323.52,174.33 323.55,175.30 323.57,176.26 323.59,177.21 323.62,178.17 323.64,179.11 323.66,180.05 323.69,180.99 323.71,181.92 323.73,182.84 323.75,183.77 323.78,184.68 323.80,185.59 323.82,186.50 323.85,187.40 323.87,188.30 323.89,189.19 323.92,190.08 323.94,190.96 323.96,191.84 323.99,192.71 324.01,193.58 324.03,194.44 324.05,195.30 324.08,196.16 324.10,197.01 324.12,197.85 324.15,198.69 324.17,199.53 324.19,200.36 324.22,201.19 324.24,202.02 324.26,202.83 324.29,203.65 324.31,204.46 324.33,205.27 324.35,206.07 324.38,206.87 324.40,207.66 324.42,208.45 324.45,209.23 324.47,210.01 324.49,210.79 324.52,211.56 324.54,212.33 324.56,213.10 324.59,213.86 324.61,214.61 324.63,215.37 324.65,216.11 324.68,216.86 324.70,217.60 324.72,218.33 324.75,219.07 324.77,219.80 324.79,220.52 324.82,221.24 324.84,221.96 324.86,222.67 324.89,223.38 324.91,224.09 324.93,224.79 324.95,225.49 324.98,226.18 325.00,226.87 325.02,227.56 325.05,228.24 325.07,228.92 325.09,229.60 325.12,230.27 325.14,230.94 325.16,231.61 325.19,232.27 325.21,232.93 325.23,233.58 325.25,234.23 325.28,234.88 325.30,235.53 325.32,236.17 325.35,236.80 325.37,237.44 325.39,238.07 325.42,238.70 325.44,239.32 325.46,239.94 325.49,240.56 325.51,241.18 325.53,241.79 325.55,242.39 325.58,243.00 325.60,243.60 325.62,244.20 325.65,244.79 325.67,245.39 325.69,245.97 325.72,246.56 325.74,247.14 325.76,247.72 325.79,248.30 325.81,248.87 325.83,249.44 325.85,250.01 325.88,250.57 325.90,251.13 325.92,251.69 325.95,252.25 325.97,252.80 325.99,253.35 326.02,253.89 326.04,254.44 326.06,254.98 326.09,255.52 326.11,256.05 326.13,256.58 326.16,257.11 326.18,257.64 326.20,258.16 326.22,258.68 326.25,259.20 326.27,259.72 326.29,260.23 326.32,260.74 326.34,261.25 326.36,261.75 326.39,262.25 326.41,262.75 326.43,263.25 326.46,263.74 326.48,264.23 326.50,264.72 326.52,265.21 326.55,265.69 326.57,266.17 326.59,266.65 326.64,267.60 326.69,268.54 326.73,269.46 326.78,270.38 326.82,271.29 326.87,272.19 326.92,273.08 326.96,273.96 327.01,274.83 327.06,275.70 327.10,276.55 327.15,277.39 327.19,278.23 327.24,279.05 327.29,279.87 327.33,280.68 327.38,281.48 327.42,282.27 327.47,283.05 327.52,283.83 327.56,284.59 327.61,285.35 327.66,286.10 327.70,286.85 327.75,287.58 327.79,288.31 327.84,289.03 327.89,289.74 327.93,290.45 327.98,291.14 328.02,291.83 328.07,292.51 328.12,293.19 328.16,293.86 328.21,294.52 328.26,295.17 328.30,295.82 328.35,296.46 328.39,297.09 328.44,297.72 328.49,298.34 328.53,298.95 328.58,299.56 328.62,300.16 328.67,300.75 328.72,301.34 328.76,301.92 328.81,302.50 328.86,303.07 328.90,303.63 328.95,304.19 328.99,304.74 329.04,305.28 329.09,305.82 329.13,306.36 329.18,306.88 329.22,307.41 329.27,307.93 329.32,308.44 329.36,308.94 329.41,309.44 329.46,309.94 329.50,310.43 329.55,310.92 329.59,311.40 329.64,311.87 329.69,312.34 329.73,312.81 329.78,313.27 329.83,313.72 329.89,314.40 329.96,315.06 330.03,315.71 330.10,316.36 330.17,316.99 330.24,317.61 330.31,318.23 330.38,318.83 330.45,319.42 330.52,320.01 330.59,320.58 330.66,321.15 330.73,321.70 330.79,322.25 330.86,322.79 330.93,323.32 331.00,323.85 331.07,324.36 331.14,324.87 331.21,325.37 331.28,325.86 331.35,326.34 331.42,326.81 331.49,327.28 331.56,327.74 331.63,328.19 331.69,328.64 331.76,329.08 331.83,329.51 331.93,330.08 332.02,330.63 332.11,331.17 332.20,331.70 332.29,332.22 332.39,332.73 332.48,333.22 332.57,333.71 332.66,334.19 332.76,334.65 332.85,335.11 332.94,335.55 333.03,335.99 333.13,336.42 333.22,336.83 333.31,337.24 333.43,337.74 333.54,338.23 333.66,338.70 333.77,339.16 333.89,339.60 334.00,340.03 334.12,340.46 334.23,340.86 334.35,341.26 334.46,341.65 334.60,342.09 334.74,342.53 334.88,342.94 335.02,343.34 335.16,343.73 335.30,344.10 335.46,344.52 335.62,344.91 335.78,345.29 335.94,345.65 336.10,345.99 336.29,346.36 336.47,346.70 336.66,347.03 336.87,347.37 337.07,347.69 337.28,347.98 337.51,348.28 337.74,348.55 338.00,348.82 338.27,349.07 338.57,349.29 338.90,349.48 339.27,349.63 339.70,349.71 340.19,349.68 340.58,349.56 340.93,349.39 341.23,349.18 341.50,348.95 341.76,348.70 342.01,348.43 342.24,348.14 342.47,347.84 342.68,347.54 342.89,347.22 343.10,346.88 343.31,346.53 343.49,346.20 343.67,345.85 343.86,345.50 344.04,345.13 344.23,344.75 344.39,344.41 344.55,344.07 344.71,343.71 344.87,343.35 345.04,342.99 345.20,342.62 345.36,342.24 345.52,341.86 345.68,341.47 345.84,341.08 346.01,340.68 346.17,340.28 346.33,339.87 346.49,339.47 346.65,339.06 346.81,338.65 346.98,338.24 347.14,337.83 347.30,337.43 347.46,337.02 347.62,336.62 347.78,336.23 347.94,335.84 348.11,335.46 348.27,335.08 348.43,334.72 348.59,334.35 348.75,334.00 348.91,333.65 349.08,333.30 349.26,332.92 349.44,332.54 349.63,332.17 349.81,331.81 350.00,331.45 350.18,331.11 350.37,330.77 350.55,330.44 350.74,330.12 350.95,329.78 351.15,329.44 351.36,329.12 351.57,328.81 351.78,328.52 352.01,328.20 352.24,327.89 352.47,327.60 352.70,327.33 352.95,327.04 353.21,326.76 353.46,326.51 353.74,326.24 354.02,326.00 354.29,325.77 354.59,325.54 354.89,325.32 355.22,325.11 356.01,324.64 356.62,324.34 357.22,324.09 357.83,323.86 358.44,323.67 359.05,323.50 359.65,323.36 360.26,323.24 360.87,323.13 361.48,323.04 362.08,322.96 362.69,322.89 363.30,322.83 363.91,322.78 364.51,322.74 365.12,322.70 365.73,322.66 366.34,322.63 366.94,322.61 367.55,322.58 368.16,322.56 368.77,322.55 369.37,322.53 369.98,322.51 370.59,322.50 371.20,322.49 371.80,322.48 372.41,322.47 373.02,322.46 373.63,322.46 374.23,322.45 374.84,322.45 375.45,322.44 376.06,322.44 376.66,322.44 377.27,322.44 377.88,322.44 378.49,322.44 379.09,322.44 379.70,322.44 380.31,322.44 380.92,322.44 381.52,322.44 382.13,322.44 382.74,322.44 383.35,322.44 383.95,322.44 384.56,322.44 385.17,322.44 385.78,322.44 386.38,322.44 386.99,322.44 387.60,322.44 388.21,322.44 388.81,322.44 389.42,322.44 390.03,322.44 390.64,322.44 391.24,322.44 391.85,322.44 392.46,322.44 393.07,322.44 393.67,322.44 394.28,322.44 394.89,322.44 395.50,322.44 396.10,322.44 396.71,322.44 397.32,322.44 397.93,322.44 398.53,322.44 399.14,322.44 399.75,322.44 400.36,322.44 400.96,322.44 401.57,322.44 402.18,322.44 402.79,322.44 403.39,322.44 404.00,322.44 404.61,322.44 405.22,322.44 405.82,322.44 406.43,322.44 407.04,322.44 407.65,322.44 408.25,322.44 408.86,322.44 409.47,322.44 410.08,322.44 410.68,322.44 411.29,322.44 411.90,322.44 412.51,322.44 413.11,322.44 413.72,322.44 414.33,322.44 414.94,322.44 415.54,322.44 416.15,322.44 416.76,322.44 417.37,322.44 417.98,322.44 418.58,322.44 419.19,322.44 419.80,322.44 420.41,322.44 421.01,322.44 421.62,322.44 422.23,322.44 422.84,322.44 423.44,322.44 424.05,322.44 424.66,322.44 425.27,322.44 425.87,322.44 426.48,322.44 427.09,322.44 427.70,322.44 428.30,322.44 428.91,322.44 429.52,322.44 430.13,322.44 430.73,322.44 431.34,322.44 431.95,322.44 432.56,322.44 433.16,322.44 433.77,322.44 434.38,322.44 434.99,322.44 435.59,322.44 436.20,322.44 436.81,322.44 437.42,322.44 438.02,322.44 438.63,322.44 439.24,322.44 439.85,322.44 440.45,322.44 441.06,322.44 441.67,322.44 442.28,322.44 442.88,322.44 443.49,322.44 444.10,322.44 444.71,322.44 445.31,322.44 445.92,322.44 446.53,322.44 447.14,322.44 447.74,322.44 448.35,322.44 448.96,322.44 449.57,322.44 450.17,322.44 450.78,322.44 451.39,322.44 452.00,322.44 452.60,322.44 453.21,322.44 453.82,322.44 454.43,322.44 455.03,322.44 455.64,322.44 456.25,322.44 456.86,322.44 457.46,322.44 458.07,322.44 458.68,322.44 459.29,322.44 459.89,322.44 460.50,322.44 461.11,322.44 461.72,322.44 462.32,322.44 462.93,322.44 463.54,322.44 464.15,322.44 464.75,322.44 465.36,322.44 465.97,322.44 466.58,322.44 467.18,322.44 467.79,322.44 468.40,322.44 469.01,322.44 469.61,322.44 470.22,322.44 470.83,322.44 471.44,322.44 472.04,322.44 472.65,322.44 473.26,322.44 473.87,322.44 474.47,322.44 475.08,322.44 475.69,322.44 476.30,322.44 476.91,322.44 477.51,322.44 478.12,322.44 478.73,322.44 479.34,322.44 479.94,322.44 480.55,322.44 481.16,322.44 481.77,322.44 482.37,322.44 482.98,322.44 483.59,322.44 484.20,322.44 484.80,322.44 485.41,322.44 486.02,322.44 486.63,322.44 487.23,322.44 487.84,322.44 488.45,322.44 489.06,322.44 489.66,322.44 490.27,322.44 490.88,322.44 491.49,322.44 492.09,322.44 492.70,322.44 493.31,322.44 493.92,322.44 494.52,322.44 495.13,322.44 495.74,322.44 496.35,322.44 496.95,322.44 497.56,322.44 498.17,322.44 498.78,322.44 499.38,322.44 499.99,322.44 500.60,322.44 501.21,322.44 501.81,322.44 502.42,322.44 503.03,322.44 503.64,322.44 504.24,322.44 504.85,322.44 505.46,322.44 506.07,322.44 506.67,322.44 507.28,322.44 507.89,322.44 508.50,322.44 509.10,322.44 509.71,322.44 510.32,322.44 510.93,322.44 511.53,322.44 512.14,322.44 512.75,322.44 513.36,322.44 513.96,322.44 514.57,322.44 515.18,322.44 515.79,322.44 516.39,322.44 517.00,322.44 517.61,322.44 518.22,322.44 518.82,322.44 519.43,322.44 520.04,322.44 520.65,322.44 521.25,322.44 521.86,322.44 522.47,322.44 523.08,322.44 523.68,322.44 524.29,322.44 524.90,322.44 525.51,322.44 526.11,322.44 526.72,322.44 527.33,322.44 527.94,322.44 528.54,322.44 529.15,322.44 529.76,322.44 530.37,322.44 530.97,322.44 531.58,322.44 532.19,322.44 532.80,322.44 533.40,322.44 534.01,322.44 534.62,322.44 535.23,322.44 535.83,322.44 536.44,322.44 537.05,322.44" fill="none" stroke="#000" stroke-width="3.4" stroke-linejoin="round"/>
</g>
<g class="tl">
<text x="31.60" y="404.70" text-anchor="end">0</text>
<text x="31.60" y="325.45" text-anchor="end">5</text>
<text x="31.60" y="246.20" text-anchor="end">10</text>
<text x="31.60" y="166.95" text-anchor="end">15</text>
<text x="31.60" y="87.70" text-anchor="end">20</text>
<text x="31.60" y="8.45" text-anchor="end">25</text>
<text x="34.70" y="414.6" text-anchor="middle">0</text>
<text x="98.65" y="414.6" text-anchor="middle">5</text>
<text x="162.60" y="414.6" text-anchor="middle">10</text>
<text x="226.55" y="414.6" text-anchor="middle">15</text>
<text x="317.60" y="404.72" text-anchor="end">-20</text>
<text x="317.60" y="360.70" text-anchor="end">0</text>
<text x="317.60" y="316.68" text-anchor="end">20</text>
<text x="317.60" y="272.66" text-anchor="end">40</text>
<text x="317.60" y="228.63" text-anchor="end">60</text>
<text x="317.60" y="184.61" text-anchor="end">80</text>
<text x="317.60" y="140.59" text-anchor="end">100</text>
<text x="317.60" y="96.57" text-anchor="end">120</text>
<text x="317.60" y="52.55" text-anchor="end">140</text>
<text x="317.60" y="8.52" text-anchor="end">160</text>
<text x="320.80" y="414.6" text-anchor="middle">0</text>
<text x="364.05" y="414.6" text-anchor="middle">10</text>
<text x="407.30" y="414.6" text-anchor="middle">20</text>
<text x="450.55" y="414.6" text-anchor="middle">30</text>
<text x="493.80" y="414.6" text-anchor="middle">40</text>
<text x="537.05" y="414.6" text-anchor="middle">50</text>
</g>
<g class="al">
<text x="143.4" y="429.7" text-anchor="middle" textLength="46" lengthAdjust="spacingAndGlyphs">Time, s</text>
<text x="428.9" y="429.7" text-anchor="middle" textLength="44" lengthAdjust="spacingAndGlyphs">Time, s</text>
<text transform="translate(11.0,204.35) rotate(-90)" text-anchor="middle" textLength="125" lengthAdjust="spacingAndGlyphs">Number of proteins</text>
<text transform="translate(289.6,204.15) rotate(-90)" text-anchor="middle" textLength="125.5" lengthAdjust="spacingAndGlyphs">Number of proteins</text>
<text x="404.2" y="294.3" textLength="178" lengthAdjust="spacingAndGlyphs">protein 1 steady state limits</text>
<text x="406.9" y="383.0" textLength="177.8" lengthAdjust="spacingAndGlyphs">protein 1 steady state limits</text>
</g>
<path d="M444.5,299.5 V313 M444.8,357.2 V371.6" stroke="#555" stroke-width="1"/>
<rect x="327.5" y="20.5" width="271" height="98" fill="#fff" stroke="#3a3a3a" stroke-width="1"/>
<path d="M333.3,30.00 H367" stroke="#d614d6" stroke-width="2.8" stroke-dasharray="7.1 1.75"/>
<text x="371.3" y="34.50" class="lg">mean of protein 2 - its standard deviation</text>
<path d="M333.3,45.75 H367" stroke="#d614d6" stroke-width="2.8" stroke-dasharray="7.4 1.6 2.4 1.7"/>
<text x="371.3" y="50.25" class="lg">mean of protein 2 + its standard deviation</text>
<path d="M333.3,61.50 H367" stroke="#d41212" stroke-width="2.6"/>
<text x="371.3" y="66.00" class="lg">protein 2</text>
<path d="M333.3,77.25 H367" stroke="#1410cc" stroke-width="2.8" stroke-dasharray="7.1 1.75"/>
<text x="371.3" y="81.75" class="lg">mean of protein 1 - its standard deviation</text>
<path d="M333.3,93.00 H367" stroke="#1410cc" stroke-width="2.8" stroke-dasharray="7.4 1.6 2.4 1.7"/>
<text x="371.3" y="97.50" class="lg">mean of protein 1 + its standard deviation</text>
<path d="M333.3,108.75 H367" stroke="#000" stroke-width="4"/>
<text x="371.3" y="113.25" class="lg">protein 1</text>
</svg>
</body></html>
